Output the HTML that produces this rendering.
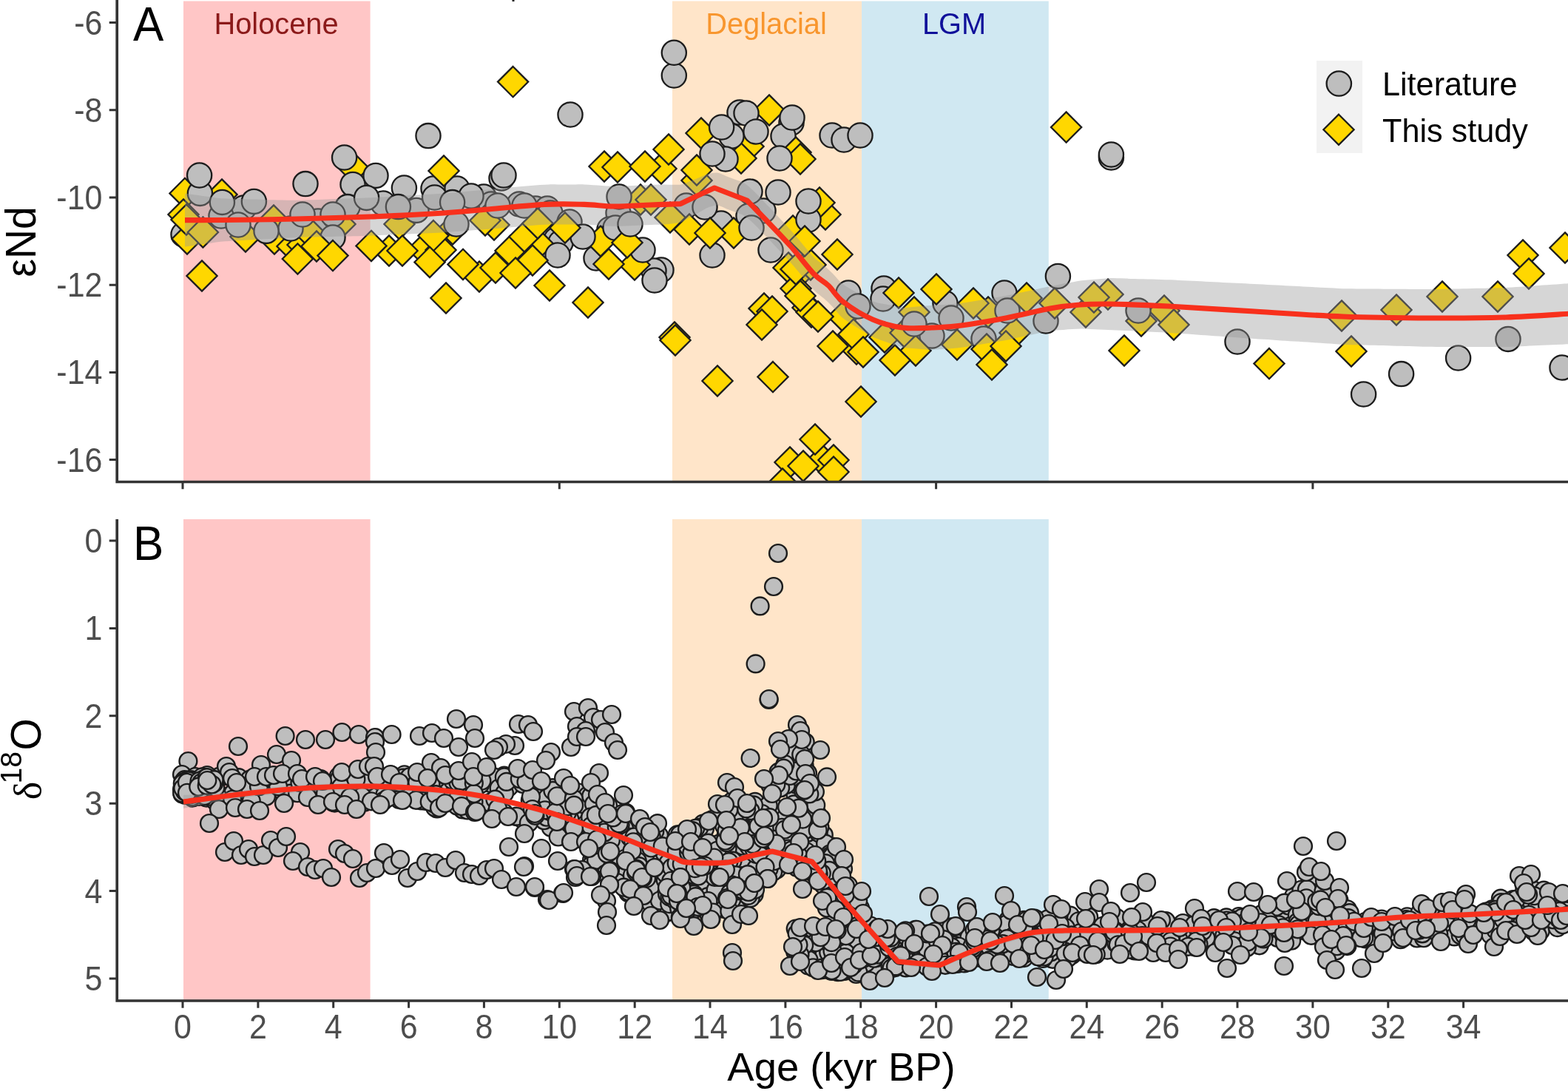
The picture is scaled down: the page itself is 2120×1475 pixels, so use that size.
<!DOCTYPE html>
<html lang="en"><head><meta charset="utf-8"><title>εNd and δ18O versus age</title>
<style>
html,body{margin:0;padding:0;background:#fff;}
body{width:2120px;height:1475px;overflow:hidden;}
svg{display:block;}
text{font-family:"Liberation Sans",Arial,Helvetica,sans-serif;}
.tk{font-size:41px;fill:#4d4d4d;}
.ax{stroke:#333;stroke-width:3.7;fill:none;}
.c{fill:#bebebe;stroke:#1c1c1c;stroke-width:2.3;}
.d{fill:#ffd700;stroke:#1c1c1c;stroke-width:2.3;}
.rl{fill:none;stroke:#f8301c;stroke-width:7.1;stroke-linejoin:round;stroke-linecap:butt;}
.rb{fill:#999;fill-opacity:.4;stroke:none;}
</style></head><body>
<svg width="2120" height="1475" viewBox="0 0 2120 1475">
<rect width="2120" height="1475" fill="#fff"/>
<g id="panelA">
<rect x="248.0" y="1.5" width="252.6" height="650.0" fill="#ffc6c6"/>
<rect x="909.0" y="1.5" width="256.0" height="650.0" fill="#ffe5c9"/>
<rect x="1165.0" y="1.5" width="252.8" height="650.0" fill="#d0e8f2"/>
<clipPath id="clipA"><rect x="160" y="0" width="1960" height="650"/></clipPath>
<g clip-path="url(#clipA)">
<path class="d" d="M1012.0 177.4l20.6 20.6l-20.6 20.6l-20.6 -20.6z"/>
<path class="d" d="M1002.0 193.4l20.6 20.6l-20.6 20.6l-20.6 -20.6z"/>
<circle class="c" cx="329.6" cy="281.0" r="16.6"/>
<circle class="c" cx="430.0" cy="299.0" r="16.6"/>
<circle class="c" cx="299.0" cy="292.0" r="16.6"/>
<circle class="c" cx="248.0" cy="317.0" r="16.6"/>
<circle class="c" cx="518.0" cy="275.0" r="16.6"/>
<circle class="c" cx="586.0" cy="255.0" r="16.6"/>
<circle class="c" cx="618.0" cy="255.0" r="16.6"/>
<path class="d" d="M250.0 240.8l20.6 20.6l-20.6 20.6l-20.6 -20.6z"/>
<path class="d" d="M248.0 269.4l20.6 20.6l-20.6 20.6l-20.6 -20.6z"/>
<path class="d" d="M253.0 302.4l20.6 20.6l-20.6 20.6l-20.6 -20.6z"/>
<path class="d" d="M300.0 242.4l20.6 20.6l-20.6 20.6l-20.6 -20.6z"/>
<path class="d" d="M332.0 299.4l20.6 20.6l-20.6 20.6l-20.6 -20.6z"/>
<path class="d" d="M371.0 302.4l20.6 20.6l-20.6 20.6l-20.6 -20.6z"/>
<path class="d" d="M370.0 277.4l20.6 20.6l-20.6 20.6l-20.6 -20.6z"/>
<path class="d" d="M395.0 312.4l20.6 20.6l-20.6 20.6l-20.6 -20.6z"/>
<path class="d" d="M409.0 310.4l20.6 20.6l-20.6 20.6l-20.6 -20.6z"/>
<path class="d" d="M478.0 206.4l20.6 20.6l-20.6 20.6l-20.6 -20.6z"/>
<path class="d" d="M526.0 318.4l20.6 20.6l-20.6 20.6l-20.6 -20.6z"/>
<path class="d" d="M540.0 282.4l20.6 20.6l-20.6 20.6l-20.6 -20.6z"/>
<path class="d" d="M572.0 316.4l20.6 20.6l-20.6 20.6l-20.6 -20.6z"/>
<path class="d" d="M596.0 317.4l20.6 20.6l-20.6 20.6l-20.6 -20.6z"/>
<path class="d" d="M612.0 289.4l20.6 20.6l-20.6 20.6l-20.6 -20.6z"/>
<path class="d" d="M460.0 282.4l20.6 20.6l-20.6 20.6l-20.6 -20.6z"/>
<path class="d" d="M420.0 295.4l20.6 20.6l-20.6 20.6l-20.6 -20.6z"/>
<circle class="c" cx="678.0" cy="241.0" r="16.6"/>
<circle class="c" cx="654.0" cy="266.0" r="16.6"/>
<circle class="c" cx="664.0" cy="276.0" r="16.6"/>
<circle class="c" cx="702.0" cy="276.0" r="16.6"/>
<circle class="c" cx="724.0" cy="282.0" r="16.6"/>
<circle class="c" cx="740.0" cy="282.0" r="16.6"/>
<circle class="c" cx="744.0" cy="288.0" r="16.6"/>
<circle class="c" cx="770.0" cy="300.0" r="16.6"/>
<circle class="c" cx="836.0" cy="288.0" r="16.6"/>
<circle class="c" cx="824.0" cy="310.0" r="16.6"/>
<circle class="c" cx="752.0" cy="324.0" r="16.6"/>
<circle class="c" cx="758.0" cy="328.0" r="16.6"/>
<circle class="c" cx="806.0" cy="349.0" r="16.6"/>
<circle class="c" cx="894.0" cy="365.0" r="16.6"/>
<circle class="c" cx="884.0" cy="366.0" r="16.6"/>
<circle class="c" cx="928.0" cy="278.0" r="16.6"/>
<path class="d" d="M668.0 283.4l20.6 20.6l-20.6 20.6l-20.6 -20.6z"/>
<path class="d" d="M656.0 277.4l20.6 20.6l-20.6 20.6l-20.6 -20.6z"/>
<path class="d" d="M728.0 309.4l20.6 20.6l-20.6 20.6l-20.6 -20.6z"/>
<path class="d" d="M812.0 305.4l20.6 20.6l-20.6 20.6l-20.6 -20.6z"/>
<path class="d" d="M817.0 204.4l20.6 20.6l-20.6 20.6l-20.6 -20.6z"/>
<path class="d" d="M894.0 207.4l20.6 20.6l-20.6 20.6l-20.6 -20.6z"/>
<path class="d" d="M858.0 337.4l20.6 20.6l-20.6 20.6l-20.6 -20.6z"/>
<path class="d" d="M866.0 249.4l20.6 20.6l-20.6 20.6l-20.6 -20.6z"/>
<path class="d" d="M880.0 249.4l20.6 20.6l-20.6 20.6l-20.6 -20.6z"/>
<path class="d" d="M906.0 273.4l20.6 20.6l-20.6 20.6l-20.6 -20.6z"/>
<path class="d" d="M942.0 223.4l20.6 20.6l-20.6 20.6l-20.6 -20.6z"/>
<circle class="c" cx="1000.0" cy="152.0" r="16.6"/>
<circle class="c" cx="989.0" cy="184.0" r="16.6"/>
<circle class="c" cx="1070.0" cy="166.0" r="16.6"/>
<circle class="c" cx="1059.0" cy="184.0" r="16.6"/>
<circle class="c" cx="981.0" cy="215.0" r="16.6"/>
<circle class="c" cx="1125.0" cy="183.0" r="16.6"/>
<circle class="c" cx="1032.0" cy="285.0" r="16.6"/>
<circle class="c" cx="1012.0" cy="292.0" r="16.6"/>
<circle class="c" cx="975.0" cy="302.0" r="16.6"/>
<path class="d" d="M1040.0 128.4l20.6 20.6l-20.6 20.6l-20.6 -20.6z"/>
<path class="d" d="M1076.0 185.4l20.6 20.6l-20.6 20.6l-20.6 -20.6z"/>
<path class="d" d="M1116.0 269.4l20.6 20.6l-20.6 20.6l-20.6 -20.6z"/>
<path class="d" d="M1108.0 253.4l20.6 20.6l-20.6 20.6l-20.6 -20.6z"/>
<path class="d" d="M1072.0 291.4l20.6 20.6l-20.6 20.6l-20.6 -20.6z"/>
<path class="d" d="M1088.0 341.4l20.6 20.6l-20.6 20.6l-20.6 -20.6z"/>
<path class="d" d="M1096.0 337.4l20.6 20.6l-20.6 20.6l-20.6 -20.6z"/>
<path class="d" d="M1066.0 341.4l20.6 20.6l-20.6 20.6l-20.6 -20.6z"/>
<path class="d" d="M912.0 435.4l20.6 20.6l-20.6 20.6l-20.6 -20.6z"/>
<path class="d" d="M1033.0 396.4l20.6 20.6l-20.6 20.6l-20.6 -20.6z"/>
<path class="d" d="M1076.0 369.4l20.6 20.6l-20.6 20.6l-20.6 -20.6z"/>
<path class="d" d="M1092.0 395.4l20.6 20.6l-20.6 20.6l-20.6 -20.6z"/>
<path class="d" d="M1097.0 401.4l20.6 20.6l-20.6 20.6l-20.6 -20.6z"/>
<path class="d" d="M1158.0 451.4l20.6 20.6l-20.6 20.6l-20.6 -20.6z"/>
<path class="d" d="M1140.0 407.4l20.6 20.6l-20.6 20.6l-20.6 -20.6z"/>
<path class="d" d="M1196.0 435.4l20.6 20.6l-20.6 20.6l-20.6 -20.6z"/>
<path class="d" d="M1224.0 429.4l20.6 20.6l-20.6 20.6l-20.6 -20.6z"/>
<path class="d" d="M1236.0 401.4l20.6 20.6l-20.6 20.6l-20.6 -20.6z"/>
<path class="d" d="M1068.0 604.4l20.6 20.6l-20.6 20.6l-20.6 -20.6z"/>
<path class="d" d="M1112.0 601.4l20.6 20.6l-20.6 20.6l-20.6 -20.6z"/>
<path class="d" d="M1058.0 633.4l20.6 20.6l-20.6 20.6l-20.6 -20.6z"/>
<circle class="c" cx="1147.0" cy="396.0" r="16.6"/>
<circle class="c" cx="1160.0" cy="414.0" r="16.6"/>
<circle class="c" cx="1195.0" cy="390.0" r="16.6"/>
<circle class="c" cx="1194.0" cy="404.0" r="16.6"/>
<circle class="c" cx="1278.0" cy="410.0" r="16.6"/>
<circle class="c" cx="1260.0" cy="454.0" r="16.6"/>
<circle class="c" cx="1358.0" cy="396.0" r="16.6"/>
<circle class="c" cx="1330.0" cy="458.0" r="16.6"/>
<path class="d" d="M1336.0 401.4l20.6 20.6l-20.6 20.6l-20.6 -20.6z"/>
<path class="d" d="M1468.0 401.4l20.6 20.6l-20.6 20.6l-20.6 -20.6z"/>
<path class="d" d="M1498.0 377.4l20.6 20.6l-20.6 20.6l-20.6 -20.6z"/>
<path class="d" d="M1543.0 413.4l20.6 20.6l-20.6 20.6l-20.6 -20.6z"/>
<path class="d" d="M1574.0 399.4l20.6 20.6l-20.6 20.6l-20.6 -20.6z"/>
<path class="d" d="M1372.0 429.4l20.6 20.6l-20.6 20.6l-20.6 -20.6z"/>
<path class="d" d="M1334.0 451.4l20.6 20.6l-20.6 20.6l-20.6 -20.6z"/>
<circle class="c" cx="1502.4" cy="213.0" r="16.6"/>
<circle class="c" cx="270.4" cy="261.4" r="16.6"/>
<circle class="c" cx="300.4" cy="273.4" r="16.6"/>
<circle class="c" cx="477.0" cy="249.4" r="16.6"/>
<circle class="c" cx="508.0" cy="237.4" r="16.6"/>
<circle class="c" cx="470.0" cy="279.6" r="16.6"/>
<circle class="c" cx="450.0" cy="290.0" r="16.6"/>
<circle class="c" cx="393.0" cy="309.0" r="16.6"/>
<circle class="c" cx="322.0" cy="304.0" r="16.6"/>
<circle class="c" cx="450.0" cy="321.0" r="16.6"/>
<circle class="c" cx="546.4" cy="254.0" r="16.6"/>
<circle class="c" cx="563.0" cy="284.4" r="16.6"/>
<circle class="c" cx="587.6" cy="267.0" r="16.6"/>
<circle class="c" cx="637.0" cy="265.0" r="16.6"/>
<path class="d" d="M252.0 276.4l20.6 20.6l-20.6 20.6l-20.6 -20.6z"/>
<path class="d" d="M428.0 312.4l20.6 20.6l-20.6 20.6l-20.6 -20.6z"/>
<circle class="c" cx="673.0" cy="278.0" r="16.6"/>
<circle class="c" cx="709.0" cy="278.0" r="16.6"/>
<circle class="c" cx="837.0" cy="266.0" r="16.6"/>
<circle class="c" cx="832.0" cy="308.0" r="16.6"/>
<circle class="c" cx="788.0" cy="320.0" r="16.6"/>
<circle class="c" cx="754.0" cy="345.0" r="16.6"/>
<circle class="c" cx="869.0" cy="338.0" r="16.6"/>
<circle class="c" cx="953.0" cy="280.0" r="16.6"/>
<path class="d" d="M648.0 353.4l20.6 20.6l-20.6 20.6l-20.6 -20.6z"/>
<path class="d" d="M670.0 341.4l20.6 20.6l-20.6 20.6l-20.6 -20.6z"/>
<path class="d" d="M690.0 318.4l20.6 20.6l-20.6 20.6l-20.6 -20.6z"/>
<path class="d" d="M709.0 299.4l20.6 20.6l-20.6 20.6l-20.6 -20.6z"/>
<path class="d" d="M720.0 331.4l20.6 20.6l-20.6 20.6l-20.6 -20.6z"/>
<path class="d" d="M848.0 307.4l20.6 20.6l-20.6 20.6l-20.6 -20.6z"/>
<path class="d" d="M948.0 159.4l20.6 20.6l-20.6 20.6l-20.6 -20.6z"/>
<path class="d" d="M942.0 209.4l20.6 20.6l-20.6 20.6l-20.6 -20.6z"/>
<path class="d" d="M932.0 289.4l20.6 20.6l-20.6 20.6l-20.6 -20.6z"/>
<circle class="c" cx="1009.0" cy="153.0" r="16.6"/>
<circle class="c" cx="1141.0" cy="189.0" r="16.6"/>
<circle class="c" cx="1014.0" cy="259.0" r="16.6"/>
<circle class="c" cx="1093.0" cy="297.0" r="16.6"/>
<path class="d" d="M1082.0 194.4l20.6 20.6l-20.6 20.6l-20.6 -20.6z"/>
<path class="d" d="M992.0 294.4l20.6 20.6l-20.6 20.6l-20.6 -20.6z"/>
<path class="d" d="M1088.0 305.4l20.6 20.6l-20.6 20.6l-20.6 -20.6z"/>
<path class="d" d="M1076.0 343.4l20.6 20.6l-20.6 20.6l-20.6 -20.6z"/>
<path class="d" d="M1044.0 400.4l20.6 20.6l-20.6 20.6l-20.6 -20.6z"/>
<path class="d" d="M1082.0 379.4l20.6 20.6l-20.6 20.6l-20.6 -20.6z"/>
<path class="d" d="M1126.0 447.4l20.6 20.6l-20.6 20.6l-20.6 -20.6z"/>
<path class="d" d="M1154.0 431.4l20.6 20.6l-20.6 20.6l-20.6 -20.6z"/>
<path class="d" d="M1238.0 453.4l20.6 20.6l-20.6 20.6l-20.6 -20.6z"/>
<path class="d" d="M1316.0 389.4l20.6 20.6l-20.6 20.6l-20.6 -20.6z"/>
<path class="d" d="M1294.0 445.4l20.6 20.6l-20.6 20.6l-20.6 -20.6z"/>
<path class="d" d="M1102.0 573.4l20.6 20.6l-20.6 20.6l-20.6 -20.6z"/>
<path class="d" d="M1127.0 601.4l20.6 20.6l-20.6 20.6l-20.6 -20.6z"/>
<circle class="c" cx="1236.0" cy="438.0" r="16.6"/>
<circle class="c" cx="1286.0" cy="430.0" r="16.6"/>
<circle class="c" cx="1362.0" cy="420.0" r="16.6"/>
<circle class="c" cx="1414.0" cy="434.0" r="16.6"/>
<circle class="c" cx="1539.0" cy="420.0" r="16.6"/>
<path class="d" d="M1388.0 382.4l20.6 20.6l-20.6 20.6l-20.6 -20.6z"/>
<path class="d" d="M1426.0 389.4l20.6 20.6l-20.6 20.6l-20.6 -20.6z"/>
<path class="d" d="M1479.0 381.4l20.6 20.6l-20.6 20.6l-20.6 -20.6z"/>
<path class="d" d="M1587.0 418.4l20.6 20.6l-20.6 20.6l-20.6 -20.6z"/>
<path class="d" d="M1360.0 447.4l20.6 20.6l-20.6 20.6l-20.6 -20.6z"/>
<path class="d" d="M1814.0 406.4l20.6 20.6l-20.6 20.6l-20.6 -20.6z"/>
<path class="d" d="M1888.0 398.4l20.6 20.6l-20.6 20.6l-20.6 -20.6z"/>
<path class="d" d="M1950.0 380.4l20.6 20.6l-20.6 20.6l-20.6 -20.6z"/>
<path class="d" d="M2025.0 380.4l20.6 20.6l-20.6 20.6l-20.6 -20.6z"/>
<path class="d" d="M2059.0 324.4l20.6 20.6l-20.6 20.6l-20.6 -20.6z"/>
<path class="d" d="M2116.0 314.4l20.6 20.6l-20.6 20.6l-20.6 -20.6z"/>
<circle class="c" cx="1843.6" cy="533.0" r="16.6"/>
<circle class="c" cx="1894.6" cy="505.6" r="16.6"/>
<circle class="c" cx="1971.6" cy="484.0" r="16.6"/>
<circle class="c" cx="2039.0" cy="458.4" r="16.6"/>
<circle class="c" cx="2112.0" cy="497.0" r="16.6"/>
<circle class="c" cx="911.3" cy="102.0" r="16.6"/>
<circle class="c" cx="1502.4" cy="209.0" r="16.6"/>
<circle class="c" cx="269.6" cy="237.0" r="16.6"/>
<circle class="c" cx="343.4" cy="272.4" r="16.6"/>
<circle class="c" cx="413.0" cy="248.6" r="16.6"/>
<circle class="c" cx="465.6" cy="213.0" r="16.6"/>
<circle class="c" cx="495.6" cy="267.4" r="16.6"/>
<circle class="c" cx="409.0" cy="290.0" r="16.6"/>
<circle class="c" cx="360.0" cy="312.4" r="16.6"/>
<circle class="c" cx="538.4" cy="279.6" r="16.6"/>
<circle class="c" cx="579.0" cy="183.6" r="16.6"/>
<circle class="c" cx="611.6" cy="273.6" r="16.6"/>
<circle class="c" cx="617.0" cy="303.0" r="16.6"/>
<path class="d" d="M274.4 293.4l20.6 20.6l-20.6 20.6l-20.6 -20.6z"/>
<path class="d" d="M273.0 352.4l20.6 20.6l-20.6 20.6l-20.6 -20.6z"/>
<path class="d" d="M402.4 329.4l20.6 20.6l-20.6 20.6l-20.6 -20.6z"/>
<path class="d" d="M450.0 325.0l20.6 20.6l-20.6 20.6l-20.6 -20.6z"/>
<path class="d" d="M502.0 311.8l20.6 20.6l-20.6 20.6l-20.6 -20.6z"/>
<path class="d" d="M544.0 318.4l20.6 20.6l-20.6 20.6l-20.6 -20.6z"/>
<path class="d" d="M586.0 298.0l20.6 20.6l-20.6 20.6l-20.6 -20.6z"/>
<path class="d" d="M581.0 333.8l20.6 20.6l-20.6 20.6l-20.6 -20.6z"/>
<path class="d" d="M600.0 210.4l20.6 20.6l-20.6 20.6l-20.6 -20.6z"/>
<path class="d" d="M626.0 336.8l20.6 20.6l-20.6 20.6l-20.6 -20.6z"/>
<path class="d" d="M603.0 382.4l20.6 20.6l-20.6 20.6l-20.6 -20.6z"/>
<circle class="c" cx="771.0" cy="155.0" r="16.6"/>
<circle class="c" cx="681.0" cy="237.0" r="16.6"/>
<circle class="c" cx="852.0" cy="303.0" r="16.6"/>
<circle class="c" cx="885.0" cy="379.0" r="16.6"/>
<path class="d" d="M697.0 348.4l20.6 20.6l-20.6 20.6l-20.6 -20.6z"/>
<path class="d" d="M727.0 281.4l20.6 20.6l-20.6 20.6l-20.6 -20.6z"/>
<path class="d" d="M743.0 365.4l20.6 20.6l-20.6 20.6l-20.6 -20.6z"/>
<path class="d" d="M764.0 287.4l20.6 20.6l-20.6 20.6l-20.6 -20.6z"/>
<path class="d" d="M795.0 388.4l20.6 20.6l-20.6 20.6l-20.6 -20.6z"/>
<path class="d" d="M835.0 205.4l20.6 20.6l-20.6 20.6l-20.6 -20.6z"/>
<path class="d" d="M872.0 204.4l20.6 20.6l-20.6 20.6l-20.6 -20.6z"/>
<path class="d" d="M904.0 181.4l20.6 20.6l-20.6 20.6l-20.6 -20.6z"/>
<path class="d" d="M823.0 336.4l20.6 20.6l-20.6 20.6l-20.6 -20.6z"/>
<circle class="c" cx="975.6" cy="172.0" r="16.6"/>
<circle class="c" cx="1022.0" cy="178.0" r="16.6"/>
<circle class="c" cx="1071.0" cy="159.0" r="16.6"/>
<circle class="c" cx="963.0" cy="208.0" r="16.6"/>
<circle class="c" cx="1054.0" cy="214.0" r="16.6"/>
<circle class="c" cx="1163.0" cy="183.0" r="16.6"/>
<circle class="c" cx="1052.0" cy="260.0" r="16.6"/>
<circle class="c" cx="1016.0" cy="308.0" r="16.6"/>
<circle class="c" cx="963.0" cy="345.0" r="16.6"/>
<circle class="c" cx="1042.0" cy="338.0" r="16.6"/>
<circle class="c" cx="1093.0" cy="272.0" r="16.6"/>
<path class="d" d="M960.0 294.4l20.6 20.6l-20.6 20.6l-20.6 -20.6z"/>
<path class="d" d="M1132.0 323.4l20.6 20.6l-20.6 20.6l-20.6 -20.6z"/>
<path class="d" d="M913.0 439.4l20.6 20.6l-20.6 20.6l-20.6 -20.6z"/>
<path class="d" d="M970.0 494.4l20.6 20.6l-20.6 20.6l-20.6 -20.6z"/>
<path class="d" d="M1045.0 489.0l20.6 20.6l-20.6 20.6l-20.6 -20.6z"/>
<path class="d" d="M1030.0 418.4l20.6 20.6l-20.6 20.6l-20.6 -20.6z"/>
<path class="d" d="M1106.0 407.4l20.6 20.6l-20.6 20.6l-20.6 -20.6z"/>
<path class="d" d="M1167.0 455.4l20.6 20.6l-20.6 20.6l-20.6 -20.6z"/>
<path class="d" d="M1210.0 466.4l20.6 20.6l-20.6 20.6l-20.6 -20.6z"/>
<path class="d" d="M1215.0 375.4l20.6 20.6l-20.6 20.6l-20.6 -20.6z"/>
<path class="d" d="M1266.0 370.4l20.6 20.6l-20.6 20.6l-20.6 -20.6z"/>
<path class="d" d="M1164.0 522.4l20.6 20.6l-20.6 20.6l-20.6 -20.6z"/>
<path class="d" d="M1086.0 609.4l20.6 20.6l-20.6 20.6l-20.6 -20.6z"/>
<path class="d" d="M1127.0 617.4l20.6 20.6l-20.6 20.6l-20.6 -20.6z"/>
<circle class="c" cx="1430.4" cy="373.4" r="16.6"/>
<circle class="c" cx="1673.0" cy="462.0" r="16.6"/>
<path class="d" d="M1520.0 453.4l20.6 20.6l-20.6 20.6l-20.6 -20.6z"/>
<path class="d" d="M1341.0 472.4l20.6 20.6l-20.6 20.6l-20.6 -20.6z"/>
<path class="d" d="M1716.0 471.0l20.6 20.6l-20.6 20.6l-20.6 -20.6z"/>
<path class="d" d="M1827.0 454.4l20.6 20.6l-20.6 20.6l-20.6 -20.6z"/>
<path class="d" d="M2067.0 349.4l20.6 20.6l-20.6 20.6l-20.6 -20.6z"/>
<path class="d" d="M693.6 90.0l20.6 20.6l-20.6 20.6l-20.6 -20.6z"/>
<circle class="c" cx="911.3" cy="71.3" r="16.6"/>
<path class="d" d="M1441.6 151.4l20.6 20.6l-20.6 20.6l-20.6 -20.6z"/>
<path class="rb" d="M250.0 261.6C252.0 261.9 258.0 262.7 262.0 263.3C266.0 263.8 270.0 264.4 274.0 264.9C278.0 265.5 282.0 266.0 286.0 266.6C290.0 267.1 294.0 267.9 298.0 268.2C302.0 268.6 306.0 268.6 310.0 268.8C314.0 268.9 318.0 268.9 322.0 269.1C326.0 269.2 330.0 269.2 334.0 269.4C338.0 269.5 342.0 269.5 346.0 269.6C350.0 269.8 354.0 269.8 358.0 269.9C362.0 270.1 366.0 270.1 370.0 270.2C374.0 270.4 378.0 270.4 382.0 270.5C386.0 270.6 390.0 270.8 394.0 270.8C398.0 270.9 402.0 270.9 406.0 270.8C410.0 270.7 414.0 270.5 418.0 270.3C422.0 270.2 426.0 270.0 430.0 269.9C434.0 269.8 438.0 269.6 442.0 269.5C446.0 269.3 450.0 269.2 454.0 269.0C458.0 268.9 462.0 268.7 466.0 268.6C470.0 268.4 474.0 268.3 478.0 268.1C482.0 268.0 486.0 267.9 490.0 267.7C494.0 267.5 498.0 267.4 502.0 267.2C506.0 267.0 510.0 266.8 514.0 266.5C518.0 266.3 522.0 266.1 526.0 265.9C530.0 265.6 534.0 265.4 538.0 265.2C542.0 265.0 546.0 264.7 550.0 264.5C554.0 264.3 558.0 264.0 562.0 263.8C566.0 263.6 570.0 263.4 574.0 263.1C578.0 262.9 582.0 262.7 586.0 262.5C590.0 262.2 594.0 262.1 598.0 261.8C602.0 261.5 606.0 261.1 610.0 260.8C614.0 260.4 618.0 260.0 622.0 259.7C626.0 259.3 630.0 259.0 634.0 258.6C638.0 258.2 642.0 257.9 646.0 257.5C650.0 257.2 654.0 256.8 658.0 256.4C662.0 256.1 666.0 255.7 670.0 255.3C674.0 255.0 678.0 254.6 682.0 254.2C686.0 253.8 690.0 253.5 694.0 253.1C698.0 252.7 702.0 252.4 706.0 252.0C710.0 251.7 714.0 251.3 718.0 251.0C722.0 250.6 726.0 250.2 730.0 249.9C734.0 249.7 738.0 249.5 742.0 249.4C746.0 249.3 750.0 249.4 754.0 249.4C758.0 249.4 762.0 249.4 766.0 249.4C770.0 249.4 774.0 249.4 778.0 249.4C782.0 249.4 786.0 249.3 790.0 249.4C794.0 249.5 798.0 249.9 802.0 250.2C806.0 250.4 810.0 250.7 814.0 251.0C818.0 251.2 822.0 251.6 826.0 251.7C830.0 251.9 834.0 251.8 838.0 251.7C842.0 251.6 846.0 251.4 850.0 251.2C854.0 251.0 858.0 250.9 862.0 250.7C866.0 250.6 870.0 250.4 874.0 250.2C878.0 250.1 882.0 249.9 886.0 249.8C890.0 249.6 894.0 249.4 898.0 249.4C902.0 249.4 906.0 249.7 910.0 249.7C914.0 249.7 918.0 250.2 922.0 249.3C926.0 248.4 930.0 246.1 934.0 244.5C938.0 242.9 942.0 241.3 946.0 239.7C950.0 238.2 954.0 236.1 958.0 235.1C962.0 234.1 966.0 233.0 970.0 233.5C974.0 234.1 978.0 236.6 982.0 238.2C986.0 239.7 990.0 241.3 994.0 242.8C998.0 244.4 1002.0 245.0 1006.0 247.5C1010.0 249.9 1014.0 253.6 1018.0 257.3C1022.0 261.0 1026.0 265.5 1030.0 269.7C1034.0 273.8 1038.0 277.9 1042.0 282.1C1046.0 286.3 1050.0 290.7 1054.0 294.9C1058.0 299.2 1062.0 303.3 1066.0 307.7C1070.0 312.2 1074.0 316.9 1078.0 321.6C1082.0 326.3 1086.0 331.3 1090.0 336.0C1094.0 340.7 1098.0 345.7 1102.0 349.6C1106.0 353.4 1110.0 355.4 1114.0 358.8C1118.0 362.2 1122.0 366.0 1126.0 370.0C1130.0 374.0 1134.0 379.4 1138.0 382.9C1142.0 386.3 1146.0 388.3 1150.0 390.8C1154.0 393.2 1158.0 395.3 1162.0 397.6C1166.0 399.9 1170.0 402.6 1174.0 404.5C1178.0 406.5 1182.0 408.0 1186.0 409.2C1190.0 410.4 1194.0 410.8 1198.0 411.6C1202.0 412.4 1206.0 413.3 1210.0 414.0C1214.0 414.7 1218.0 415.7 1222.0 415.9C1226.0 416.0 1230.0 415.2 1234.0 414.9C1238.0 414.6 1242.0 414.4 1246.0 414.1C1250.0 413.8 1254.0 413.4 1258.0 413.1C1262.0 412.8 1266.0 412.6 1270.0 412.2C1274.0 411.9 1278.0 411.7 1282.0 411.4C1286.0 411.1 1290.0 410.8 1294.0 410.4C1298.0 410.1 1302.0 409.6 1306.0 409.0C1310.0 408.4 1314.0 407.7 1318.0 407.0C1322.0 406.3 1326.0 405.7 1330.0 405.0C1334.0 404.3 1338.0 403.7 1342.0 403.0C1346.0 402.3 1350.0 401.7 1354.0 401.0C1358.0 400.3 1362.0 399.5 1366.0 398.7C1370.0 397.9 1374.0 397.0 1378.0 396.1C1382.0 395.2 1386.0 394.4 1390.0 393.5C1394.0 392.6 1398.0 391.8 1402.0 390.9C1406.0 390.0 1410.0 389.1 1414.0 388.3C1418.0 387.5 1422.0 386.7 1426.0 385.9C1430.0 385.1 1434.0 384.4 1438.0 383.6C1442.0 382.9 1446.0 382.1 1450.0 381.4C1454.0 380.7 1458.0 379.8 1462.0 379.3C1466.0 378.8 1470.0 378.6 1474.0 378.3C1478.0 377.9 1482.0 377.6 1486.0 377.2C1490.0 376.9 1494.0 376.3 1498.0 376.2C1502.0 376.0 1506.0 376.2 1510.0 376.3C1514.0 376.3 1518.0 376.5 1522.0 376.6C1526.0 376.7 1530.0 376.8 1534.0 376.9C1538.0 377.0 1542.0 377.2 1546.0 377.3C1550.0 377.4 1554.0 377.5 1558.0 377.6C1562.0 377.7 1566.0 377.8 1570.0 377.9C1574.0 378.0 1578.0 378.1 1582.0 378.3C1586.0 378.5 1590.0 378.7 1594.0 378.9C1598.0 379.1 1602.0 379.3 1606.0 379.5C1610.0 379.7 1614.0 379.9 1618.0 380.1C1622.0 380.3 1626.0 380.5 1630.0 380.7C1634.0 380.9 1638.0 381.1 1642.0 381.3C1646.0 381.5 1650.0 381.7 1654.0 381.9C1658.0 382.1 1662.0 382.3 1666.0 382.5C1670.0 382.7 1674.0 382.9 1678.0 383.1C1682.0 383.3 1686.0 383.5 1690.0 383.7C1694.0 383.9 1698.0 384.1 1702.0 384.3C1706.0 384.5 1710.0 384.8 1714.0 385.0C1718.0 385.2 1722.0 385.4 1726.0 385.6C1730.0 385.8 1734.0 386.0 1738.0 386.2C1742.0 386.4 1746.0 386.6 1750.0 386.8C1754.0 387.0 1758.0 387.2 1762.0 387.4C1766.0 387.6 1770.0 387.9 1774.0 388.1C1778.0 388.3 1782.0 388.5 1786.0 388.7C1790.0 388.9 1794.0 389.1 1798.0 389.3C1802.0 389.5 1806.0 389.8 1810.0 389.9C1814.0 390.1 1818.0 390.2 1822.0 390.3C1826.0 390.4 1830.0 390.4 1834.0 390.4C1838.0 390.4 1842.0 390.5 1846.0 390.5C1850.0 390.6 1854.0 390.6 1858.0 390.6C1862.0 390.6 1866.0 390.7 1870.0 390.7C1874.0 390.7 1878.0 390.7 1882.0 390.8C1886.0 390.8 1890.0 390.8 1894.0 390.8C1898.0 390.8 1902.0 390.9 1906.0 390.9C1910.0 390.9 1914.0 390.9 1918.0 391.0C1922.0 391.0 1926.0 391.0 1930.0 391.0C1934.0 391.0 1938.0 391.0 1942.0 390.9C1946.0 390.9 1950.0 390.8 1954.0 390.7C1958.0 390.6 1962.0 390.5 1966.0 390.4C1970.0 390.4 1974.0 390.3 1978.0 390.2C1982.0 390.1 1986.0 390.0 1990.0 389.9C1994.0 389.8 1998.0 389.8 2002.0 389.7C2006.0 389.6 2010.0 389.5 2014.0 389.4C2018.0 389.3 2022.0 389.3 2026.0 389.2C2030.0 389.1 2034.0 389.0 2038.0 388.8C2042.0 388.6 2046.0 388.3 2050.0 388.0C2054.0 387.8 2058.0 387.5 2062.0 387.2C2066.0 387.0 2070.0 386.7 2074.0 386.4C2078.0 386.2 2082.0 385.9 2086.0 385.6C2090.0 385.3 2094.0 385.1 2098.0 384.8C2102.0 384.5 2106.0 384.3 2110.0 384.0C2114.0 383.7 2119.5 383.4 2122.0 383.2C2124.5 383.0 2124.5 383.0 2125.0 383.0L2125.0 465.0C2124.5 465.0 2124.5 465.0 2122.0 465.1C2119.5 465.2 2114.0 465.5 2110.0 465.7C2106.0 465.9 2102.0 466.0 2098.0 466.2C2094.0 466.4 2090.0 466.6 2086.0 466.8C2082.0 466.9 2078.0 467.1 2074.0 467.3C2070.0 467.5 2066.0 467.7 2062.0 467.9C2058.0 468.0 2054.0 468.2 2050.0 468.4C2046.0 468.6 2042.0 468.8 2038.0 468.9C2034.0 469.0 2030.0 469.0 2026.0 469.0C2022.0 469.0 2018.0 469.0 2014.0 469.0C2010.0 469.0 2006.0 469.0 2002.0 469.0C1998.0 469.0 1994.0 469.0 1990.0 469.0C1986.0 469.0 1982.0 469.0 1978.0 469.0C1974.0 469.0 1970.0 469.0 1966.0 469.0C1962.0 469.0 1958.0 469.0 1954.0 469.0C1950.0 469.0 1946.0 469.0 1942.0 468.9C1938.0 468.9 1934.0 468.9 1930.0 468.8C1926.0 468.7 1922.0 468.6 1918.0 468.4C1914.0 468.3 1910.0 468.2 1906.0 468.1C1902.0 468.0 1898.0 467.9 1894.0 467.8C1890.0 467.7 1886.0 467.6 1882.0 467.4C1878.0 467.3 1874.0 467.2 1870.0 467.1C1866.0 467.0 1862.0 466.9 1858.0 466.8C1854.0 466.7 1850.0 466.6 1846.0 466.5C1842.0 466.4 1838.0 466.3 1834.0 466.2C1830.0 466.1 1826.0 466.0 1822.0 465.9C1818.0 465.8 1814.0 465.6 1810.0 465.4C1806.0 465.2 1802.0 464.9 1798.0 464.6C1794.0 464.3 1790.0 464.1 1786.0 463.8C1782.0 463.6 1778.0 463.3 1774.0 463.0C1770.0 462.8 1766.0 462.5 1762.0 462.3C1758.0 462.0 1754.0 461.7 1750.0 461.5C1746.0 461.2 1742.0 461.0 1738.0 460.7C1734.0 460.4 1730.0 460.2 1726.0 459.9C1722.0 459.7 1718.0 459.4 1714.0 459.1C1710.0 458.9 1706.0 458.6 1702.0 458.4C1698.0 458.1 1694.0 457.8 1690.0 457.5C1686.0 457.3 1682.0 457.0 1678.0 456.7C1674.0 456.4 1670.0 456.1 1666.0 455.8C1662.0 455.6 1658.0 455.3 1654.0 455.0C1650.0 454.7 1646.0 454.4 1642.0 454.2C1638.0 453.9 1634.0 453.6 1630.0 453.3C1626.0 453.0 1622.0 452.8 1618.0 452.5C1614.0 452.2 1610.0 451.9 1606.0 451.6C1602.0 451.3 1598.0 451.1 1594.0 450.8C1590.0 450.5 1586.0 450.2 1582.0 449.9C1578.0 449.7 1574.0 449.5 1570.0 449.3C1566.0 449.1 1562.0 448.9 1558.0 448.8C1554.0 448.6 1550.0 448.4 1546.0 448.2C1542.0 448.0 1538.0 447.8 1534.0 447.6C1530.0 447.4 1526.0 447.2 1522.0 447.0C1518.0 446.9 1514.0 446.7 1510.0 446.5C1506.0 446.3 1502.0 446.1 1498.0 445.9C1494.0 445.8 1490.0 445.6 1486.0 445.5C1482.0 445.3 1478.0 445.2 1474.0 445.0C1470.0 444.9 1466.0 444.6 1462.0 444.6C1458.0 444.6 1454.0 444.9 1450.0 445.1C1446.0 445.3 1442.0 445.6 1438.0 445.9C1434.0 446.1 1430.0 446.2 1426.0 446.6C1422.0 447.0 1418.0 447.6 1414.0 448.3C1410.0 449.0 1406.0 450.0 1402.0 450.9C1398.0 451.8 1394.0 452.6 1390.0 453.5C1386.0 454.4 1382.0 455.2 1378.0 456.1C1374.0 457.0 1370.0 457.9 1366.0 458.7C1362.0 459.5 1358.0 460.3 1354.0 461.0C1350.0 461.7 1346.0 462.3 1342.0 463.0C1338.0 463.7 1334.0 464.3 1330.0 465.0C1326.0 465.7 1322.0 466.3 1318.0 467.0C1314.0 467.7 1310.0 468.4 1306.0 469.0C1302.0 469.6 1298.0 470.1 1294.0 470.4C1290.0 470.8 1286.0 471.1 1282.0 471.4C1278.0 471.7 1274.0 472.0 1270.0 472.2C1266.0 472.5 1262.0 472.9 1258.0 472.9C1254.0 472.8 1250.0 472.2 1246.0 471.9C1242.0 471.6 1238.0 471.4 1234.0 471.1C1230.0 470.8 1226.0 470.9 1222.0 470.1C1218.0 469.4 1214.0 467.8 1210.0 466.5C1206.0 465.2 1202.0 463.7 1198.0 462.3C1194.0 460.9 1190.0 459.8 1186.0 458.1C1182.0 456.4 1178.0 454.5 1174.0 452.2C1170.0 450.0 1166.0 447.2 1162.0 444.8C1158.0 442.2 1154.0 439.9 1150.0 437.2C1146.0 434.6 1142.0 432.4 1138.0 428.8C1134.0 425.1 1130.0 419.4 1126.0 415.2C1122.0 411.1 1118.0 407.1 1114.0 403.6C1110.0 400.0 1106.0 397.6 1102.0 393.7C1098.0 389.7 1094.0 384.7 1090.0 380.0C1086.0 375.3 1082.0 370.3 1078.0 365.6C1074.0 360.9 1070.0 356.2 1066.0 351.7C1062.0 347.3 1058.0 343.2 1054.0 338.9C1050.0 334.7 1046.0 330.3 1042.0 326.1C1038.0 321.9 1034.0 317.8 1030.0 313.7C1026.0 309.5 1022.0 305.0 1018.0 301.3C1014.0 297.6 1010.0 293.9 1006.0 291.5C1002.0 289.0 998.0 288.4 994.0 286.8C990.0 285.3 986.0 283.7 982.0 282.2C978.0 280.6 974.0 277.9 970.0 277.5C966.0 277.2 962.0 278.8 958.0 280.3C954.0 281.8 950.0 284.6 946.0 286.7C942.0 288.9 938.0 291.1 934.0 293.3C930.0 295.5 926.0 298.5 922.0 300.0C918.0 301.5 914.0 301.6 910.0 302.2C906.0 302.8 902.0 303.1 898.0 303.4C894.0 303.6 890.0 303.6 886.0 303.8C882.0 303.9 878.0 304.1 874.0 304.2C870.0 304.4 866.0 304.6 862.0 304.7C858.0 304.9 854.0 305.0 850.0 305.2C846.0 305.4 842.0 305.6 838.0 305.7C834.0 305.8 830.0 305.9 826.0 305.7C822.0 305.6 818.0 305.2 814.0 305.0C810.0 304.7 806.0 304.4 802.0 304.2C798.0 303.9 794.0 303.5 790.0 303.4C786.0 303.3 782.0 303.4 778.0 303.4C774.0 303.4 770.0 303.4 766.0 303.4C762.0 303.4 758.0 303.4 754.0 303.4C750.0 303.4 746.0 303.3 742.0 303.4C738.0 303.5 734.0 303.7 730.0 303.9C726.0 304.2 722.0 304.6 718.0 305.0C714.0 305.3 710.0 305.7 706.0 306.0C702.0 306.3 698.0 306.7 694.0 307.0C690.0 307.3 686.0 307.6 682.0 308.0C678.0 308.3 674.0 308.6 670.0 308.9C666.0 309.3 662.0 309.6 658.0 309.9C654.0 310.2 650.0 310.5 646.0 310.8C642.0 311.1 638.0 311.4 634.0 311.7C630.0 312.0 626.0 312.3 622.0 312.6C618.0 313.0 614.0 313.3 610.0 313.6C606.0 313.9 602.0 314.2 598.0 314.4C594.0 314.6 590.0 314.8 586.0 314.9C582.0 315.1 578.0 315.3 574.0 315.5C570.0 315.6 566.0 315.8 562.0 316.0C558.0 316.2 554.0 316.3 550.0 316.5C546.0 316.7 542.0 316.8 538.0 317.0C534.0 317.2 530.0 317.4 526.0 317.5C522.0 317.7 518.0 317.9 514.0 318.1C510.0 318.2 506.0 318.4 502.0 318.6C498.0 318.7 494.0 318.8 490.0 318.9C486.0 319.0 482.0 319.1 478.0 319.2C474.0 319.3 470.0 319.4 466.0 319.5C462.0 319.6 458.0 319.6 454.0 319.7C450.0 319.8 446.0 319.9 442.0 320.0C438.0 320.1 434.0 320.2 430.0 320.3C426.0 320.4 422.0 320.5 418.0 320.6C414.0 320.7 410.0 320.7 406.0 320.9C402.0 321.0 398.0 321.1 394.0 321.3C390.0 321.5 386.0 321.8 382.0 322.0C378.0 322.2 374.0 322.4 370.0 322.6C366.0 322.9 362.0 323.1 358.0 323.3C354.0 323.5 350.0 323.8 346.0 324.0C342.0 324.2 338.0 324.4 334.0 324.6C330.0 324.9 326.0 325.1 322.0 325.3C318.0 325.5 314.0 325.7 310.0 326.0C306.0 326.2 302.0 326.4 298.0 326.8C294.0 327.2 290.0 327.9 286.0 328.5C282.0 329.1 278.0 329.6 274.0 330.2C270.0 330.8 266.0 331.3 262.0 331.9C258.0 332.5 252.0 333.3 250.0 333.6Z"/>
<path class="rl" d="M250.0 297.6C258.3 297.6 275.0 297.8 300.0 297.5C325.0 297.2 366.7 296.8 400.0 296.0C433.3 295.2 466.7 294.3 500.0 293.0C533.3 291.7 573.3 289.7 600.0 288.0C626.7 286.3 637.3 284.9 660.0 283.0C682.7 281.1 714.3 277.5 736.0 276.4C757.7 275.3 774.3 276.0 790.0 276.4C805.7 276.8 815.0 278.9 830.0 279.0C845.0 279.1 865.0 277.6 880.0 277.0C895.0 276.4 913.3 275.8 920.0 275.6L920.0 275.6C923.3 274.0 932.3 269.6 940.0 266.0C947.7 262.4 961.7 256.0 966.0 254.0L966.0 254.0C973.3 256.8 1002.7 268.2 1010.0 271.0L1010.0 271.0C1015.0 276.2 1030.0 291.5 1040.0 302.0C1050.0 312.5 1060.0 322.7 1070.0 334.0C1080.0 345.3 1091.7 361.3 1100.0 370.0C1108.3 378.7 1113.3 379.7 1120.0 386.0C1126.7 392.3 1130.0 400.3 1140.0 408.0C1150.0 415.7 1166.7 426.2 1180.0 432.0C1193.3 437.8 1206.7 441.2 1220.0 443.0C1233.3 444.8 1246.7 443.5 1260.0 443.0C1273.3 442.5 1283.3 442.2 1300.0 440.0C1316.7 437.8 1340.0 433.8 1360.0 430.0C1380.0 426.2 1403.3 420.0 1420.0 417.0C1436.7 414.0 1446.7 413.0 1460.0 412.0C1473.3 411.0 1480.0 410.7 1500.0 411.0C1520.0 411.3 1547.3 412.3 1580.0 414.0C1612.7 415.7 1656.7 418.7 1696.0 421.0C1735.3 423.3 1776.0 426.5 1816.0 428.0C1856.0 429.5 1899.3 429.8 1936.0 430.0C1972.7 430.2 2004.5 430.0 2036.0 429.0C2067.5 428.0 2110.2 424.8 2125.0 424.0"/>
</g>
</g>
<g id="panelB">
<rect x="248.0" y="702" width="252.6" height="651" fill="#ffc6c6"/>
<rect x="909.0" y="702" width="256.0" height="651" fill="#ffe5c9"/>
<rect x="1165.0" y="702" width="252.8" height="651" fill="#d0e8f2"/>
<clipPath id="clipB"><rect x="160" y="702" width="1960" height="650"/></clipPath>
<g clip-path="url(#clipB)">
<g class="c" style="stroke-width:2.4"><circle cx="790.9" cy="1106.2" r="11.9"/><circle cx="492.6" cy="1084.7" r="11.9"/><circle cx="621.6" cy="1078.1" r="11.9"/><circle cx="619.0" cy="1080.7" r="11.9"/><circle cx="891.1" cy="1129.5" r="11.9"/><circle cx="581.1" cy="1075.4" r="11.9"/><circle cx="721.5" cy="1083.9" r="11.9"/><circle cx="475.0" cy="1049.8" r="11.9"/><circle cx="891.2" cy="1197.6" r="11.9"/><circle cx="368.8" cy="1065.4" r="11.9"/><circle cx="779.1" cy="1092.6" r="11.9"/><circle cx="822.2" cy="1089.4" r="11.9"/><circle cx="279.1" cy="1078.6" r="11.9"/><circle cx="894.1" cy="1215.6" r="11.9"/><circle cx="604.1" cy="1077.2" r="11.9"/><circle cx="463.4" cy="1055.1" r="11.9"/><circle cx="716.7" cy="1061.1" r="11.9"/><circle cx="901.5" cy="1233.7" r="11.9"/><circle cx="304.3" cy="1078.8" r="11.9"/><circle cx="575.9" cy="1082.9" r="11.9"/><circle cx="875.5" cy="1130.4" r="11.9"/><circle cx="509.8" cy="1081.5" r="11.9"/><circle cx="383.8" cy="1072.7" r="11.9"/><circle cx="835.8" cy="1112.7" r="11.9"/><circle cx="773.4" cy="1098.3" r="11.9"/><circle cx="662.9" cy="1058.9" r="11.9"/><circle cx="425.1" cy="1051.0" r="11.9"/><circle cx="645.4" cy="1083.5" r="11.9"/><circle cx="511.2" cy="1082.3" r="11.9"/><circle cx="375.9" cy="1061.8" r="11.9"/><circle cx="785.9" cy="1092.6" r="11.9"/><circle cx="529.1" cy="1047.8" r="11.9"/><circle cx="768.7" cy="1114.9" r="11.9"/><circle cx="460.5" cy="1053.4" r="11.9"/><circle cx="317.0" cy="1075.4" r="11.9"/><circle cx="759.9" cy="1076.1" r="11.9"/><circle cx="762.4" cy="1078.6" r="11.9"/><circle cx="522.7" cy="1050.0" r="11.9"/><circle cx="681.7" cy="1048.5" r="11.9"/><circle cx="559.1" cy="1054.4" r="11.9"/><circle cx="289.0" cy="1067.5" r="11.9"/><circle cx="898.9" cy="1234.4" r="11.9"/><circle cx="839.8" cy="1158.5" r="11.9"/><circle cx="859.8" cy="1176.2" r="11.9"/><circle cx="322.8" cy="1051.2" r="11.9"/><circle cx="885.3" cy="1123.9" r="11.9"/><circle cx="838.8" cy="1187.2" r="11.9"/><circle cx="415.5" cy="1063.9" r="11.9"/><circle cx="770.4" cy="1096.5" r="11.9"/><circle cx="617.5" cy="1048.4" r="11.9"/><circle cx="764.6" cy="1112.3" r="11.9"/><circle cx="898.7" cy="1147.9" r="11.9"/><circle cx="886.3" cy="1188.9" r="11.9"/><circle cx="742.5" cy="1076.9" r="11.9"/><circle cx="261.4" cy="1077.8" r="11.9"/><circle cx="772.1" cy="1072.1" r="11.9"/><circle cx="546.8" cy="1047.3" r="11.9"/><circle cx="745.1" cy="1092.3" r="11.9"/><circle cx="827.4" cy="1110.5" r="11.9"/><circle cx="315.7" cy="1083.1" r="11.9"/><circle cx="761.9" cy="1070.7" r="11.9"/><circle cx="457.7" cy="1049.4" r="11.9"/><circle cx="671.0" cy="1093.3" r="11.9"/><circle cx="769.7" cy="1092.8" r="11.9"/><circle cx="883.4" cy="1210.8" r="11.9"/><circle cx="343.0" cy="1052.3" r="11.9"/><circle cx="573.2" cy="1066.5" r="11.9"/><circle cx="298.2" cy="1078.3" r="11.9"/><circle cx="616.1" cy="1072.1" r="11.9"/><circle cx="268.1" cy="1075.1" r="11.9"/><circle cx="513.9" cy="1086.5" r="11.9"/><circle cx="670.1" cy="1079.8" r="11.9"/><circle cx="776.4" cy="1082.9" r="11.9"/><circle cx="772.3" cy="1129.5" r="11.9"/><circle cx="875.8" cy="1192.4" r="11.9"/><circle cx="545.3" cy="1069.8" r="11.9"/><circle cx="420.5" cy="1072.1" r="11.9"/><circle cx="838.7" cy="1190.9" r="11.9"/><circle cx="569.0" cy="1066.6" r="11.9"/><circle cx="904.5" cy="1232.2" r="11.9"/><circle cx="777.4" cy="1087.8" r="11.9"/><circle cx="846.2" cy="1098.6" r="11.9"/><circle cx="793.4" cy="1106.2" r="11.9"/><circle cx="649.3" cy="1091.1" r="11.9"/><circle cx="667.2" cy="1050.1" r="11.9"/><circle cx="674.6" cy="1065.5" r="11.9"/><circle cx="541.7" cy="1059.3" r="11.9"/><circle cx="502.5" cy="1077.0" r="11.9"/><circle cx="520.3" cy="1074.6" r="11.9"/><circle cx="862.4" cy="1125.0" r="11.9"/><circle cx="878.6" cy="1143.0" r="11.9"/><circle cx="789.3" cy="1120.4" r="11.9"/><circle cx="649.3" cy="1060.6" r="11.9"/><circle cx="384.2" cy="1066.3" r="11.9"/><circle cx="268.1" cy="1069.9" r="11.9"/><circle cx="518.5" cy="1082.9" r="11.9"/><circle cx="844.1" cy="1120.1" r="11.9"/><circle cx="337.8" cy="1053.6" r="11.9"/><circle cx="360.0" cy="1076.7" r="11.9"/><circle cx="866.3" cy="1161.2" r="11.9"/><circle cx="625.6" cy="1063.2" r="11.9"/><circle cx="763.4" cy="1116.0" r="11.9"/><circle cx="882.6" cy="1208.3" r="11.9"/><circle cx="661.8" cy="1085.0" r="11.9"/><circle cx="900.6" cy="1177.6" r="11.9"/><circle cx="632.6" cy="1092.5" r="11.9"/><circle cx="556.6" cy="1072.8" r="11.9"/><circle cx="316.3" cy="1072.5" r="11.9"/><circle cx="889.0" cy="1113.1" r="11.9"/><circle cx="542.3" cy="1069.0" r="11.9"/><circle cx="681.8" cy="1050.4" r="11.9"/><circle cx="410.6" cy="1057.9" r="11.9"/><circle cx="902.5" cy="1194.3" r="11.9"/><circle cx="545.0" cy="1051.6" r="11.9"/><circle cx="842.6" cy="1141.1" r="11.9"/><circle cx="855.8" cy="1191.1" r="11.9"/><circle cx="856.4" cy="1194.5" r="11.9"/><circle cx="895.0" cy="1194.7" r="11.9"/><circle cx="813.8" cy="1089.2" r="11.9"/><circle cx="339.8" cy="1082.9" r="11.9"/><circle cx="693.2" cy="1059.8" r="11.9"/><circle cx="452.5" cy="1085.6" r="11.9"/><circle cx="259.8" cy="1068.6" r="11.9"/><circle cx="436.3" cy="1066.0" r="11.9"/><circle cx="592.8" cy="1049.0" r="11.9"/><circle cx="816.3" cy="1085.3" r="11.9"/><circle cx="600.5" cy="1063.7" r="11.9"/><circle cx="849.2" cy="1206.9" r="11.9"/><circle cx="730.8" cy="1062.8" r="11.9"/><circle cx="803.9" cy="1103.1" r="11.9"/><circle cx="286.2" cy="1064.3" r="11.9"/><circle cx="300.3" cy="1049.3" r="11.9"/><circle cx="387.2" cy="1070.3" r="11.9"/><circle cx="851.8" cy="1131.9" r="11.9"/><circle cx="776.0" cy="1097.1" r="11.9"/><circle cx="807.6" cy="1096.7" r="11.9"/><circle cx="671.3" cy="1098.6" r="11.9"/><circle cx="638.3" cy="1079.6" r="11.9"/><circle cx="744.7" cy="1118.8" r="11.9"/><circle cx="860.9" cy="1206.6" r="11.9"/><circle cx="590.2" cy="1050.6" r="11.9"/><circle cx="568.5" cy="1077.8" r="11.9"/><circle cx="450.1" cy="1084.4" r="11.9"/><circle cx="889.4" cy="1200.2" r="11.9"/><circle cx="781.5" cy="1071.3" r="11.9"/><circle cx="305.7" cy="1048.6" r="11.9"/><circle cx="710.4" cy="1105.6" r="11.9"/><circle cx="561.6" cy="1071.4" r="11.9"/><circle cx="799.2" cy="1086.9" r="11.9"/><circle cx="687.8" cy="1064.6" r="11.9"/><circle cx="866.9" cy="1178.8" r="11.9"/><circle cx="612.1" cy="1074.7" r="11.9"/><circle cx="743.1" cy="1084.2" r="11.9"/><circle cx="612.2" cy="1055.2" r="11.9"/><circle cx="605.3" cy="1080.8" r="11.9"/><circle cx="364.7" cy="1053.8" r="11.9"/><circle cx="849.9" cy="1205.5" r="11.9"/><circle cx="794.4" cy="1075.7" r="11.9"/><circle cx="260.2" cy="1078.6" r="11.9"/><circle cx="566.2" cy="1061.8" r="11.9"/><circle cx="640.5" cy="1084.0" r="11.9"/><circle cx="681.4" cy="1098.7" r="11.9"/><circle cx="791.1" cy="1088.3" r="11.9"/><circle cx="768.3" cy="1130.5" r="11.9"/><circle cx="873.0" cy="1210.6" r="11.9"/><circle cx="845.0" cy="1160.8" r="11.9"/><circle cx="575.7" cy="1048.5" r="11.9"/><circle cx="745.6" cy="1083.1" r="11.9"/><circle cx="717.8" cy="1054.6" r="11.9"/><circle cx="819.7" cy="1105.3" r="11.9"/><circle cx="736.8" cy="1065.8" r="11.9"/><circle cx="488.8" cy="1061.8" r="11.9"/><circle cx="481.2" cy="1075.1" r="11.9"/><circle cx="808.9" cy="1178.1" r="11.9"/><circle cx="890.7" cy="1201.6" r="11.9"/><circle cx="880.8" cy="1131.3" r="11.9"/><circle cx="857.5" cy="1131.4" r="11.9"/><circle cx="872.4" cy="1131.1" r="11.9"/><circle cx="280.3" cy="1054.4" r="11.9"/><circle cx="778.7" cy="1121.8" r="11.9"/><circle cx="775.1" cy="1081.6" r="11.9"/><circle cx="391.9" cy="1054.7" r="11.9"/><circle cx="578.2" cy="1059.1" r="11.9"/><circle cx="385.2" cy="1066.9" r="11.9"/><circle cx="824.5" cy="1119.9" r="11.9"/><circle cx="821.3" cy="1129.6" r="11.9"/><circle cx="711.3" cy="1101.2" r="11.9"/><circle cx="593.9" cy="1087.8" r="11.9"/><circle cx="859.0" cy="1201.6" r="11.9"/><circle cx="566.9" cy="1048.1" r="11.9"/><circle cx="558.5" cy="1062.2" r="11.9"/><circle cx="814.2" cy="1143.3" r="11.9"/><circle cx="333.1" cy="1063.0" r="11.9"/><circle cx="589.9" cy="1052.9" r="11.9"/><circle cx="817.0" cy="1087.5" r="11.9"/><circle cx="825.9" cy="1135.9" r="11.9"/><circle cx="891.5" cy="1146.8" r="11.9"/><circle cx="902.5" cy="1197.6" r="11.9"/><circle cx="783.4" cy="1132.2" r="11.9"/><circle cx="627.0" cy="1086.4" r="11.9"/><circle cx="799.2" cy="1076.0" r="11.9"/><circle cx="294.5" cy="1072.3" r="11.9"/><circle cx="408.8" cy="1070.9" r="11.9"/><circle cx="458.9" cy="1053.1" r="11.9"/><circle cx="716.8" cy="1081.9" r="11.9"/><circle cx="624.9" cy="1062.4" r="11.9"/><circle cx="841.7" cy="1099.9" r="11.9"/><circle cx="818.6" cy="1104.6" r="11.9"/><circle cx="800.0" cy="1162.7" r="11.9"/><circle cx="802.9" cy="1162.0" r="11.9"/><circle cx="880.3" cy="1222.1" r="11.9"/><circle cx="833.0" cy="1191.9" r="11.9"/><circle cx="870.6" cy="1168.6" r="11.9"/><circle cx="800.0" cy="1169.4" r="11.9"/><circle cx="729.8" cy="1085.0" r="11.9"/><circle cx="698.8" cy="1104.2" r="11.9"/><circle cx="315.3" cy="1072.1" r="11.9"/><circle cx="539.1" cy="1079.9" r="11.9"/><circle cx="706.0" cy="1107.3" r="11.9"/><circle cx="708.7" cy="1054.4" r="11.9"/><circle cx="844.8" cy="1177.6" r="11.9"/><circle cx="735.5" cy="1109.2" r="11.9"/><circle cx="803.0" cy="1087.0" r="11.9"/><circle cx="826.3" cy="1170.2" r="11.9"/><circle cx="879.4" cy="1165.8" r="11.9"/><circle cx="619.4" cy="1057.9" r="11.9"/><circle cx="350.1" cy="1052.9" r="11.9"/><circle cx="706.9" cy="1060.0" r="11.9"/><circle cx="271.5" cy="1067.1" r="11.9"/><circle cx="832.2" cy="1106.6" r="11.9"/><circle cx="846.0" cy="1166.2" r="11.9"/><circle cx="762.3" cy="1102.6" r="11.9"/><circle cx="803.5" cy="1112.8" r="11.9"/><circle cx="872.3" cy="1155.8" r="11.9"/><circle cx="861.8" cy="1164.0" r="11.9"/><circle cx="440.3" cy="1067.4" r="11.9"/><circle cx="544.2" cy="1057.3" r="11.9"/><circle cx="467.3" cy="1051.9" r="11.9"/><circle cx="762.3" cy="1105.8" r="11.9"/><circle cx="806.1" cy="1162.7" r="11.9"/><circle cx="851.6" cy="1163.4" r="11.9"/><circle cx="804.6" cy="1142.5" r="11.9"/><circle cx="898.5" cy="1153.3" r="11.9"/><circle cx="546.5" cy="1071.8" r="11.9"/><circle cx="880.4" cy="1146.5" r="11.9"/><circle cx="859.8" cy="1206.5" r="11.9"/><circle cx="878.7" cy="1199.7" r="11.9"/><circle cx="739.0" cy="1104.7" r="11.9"/><circle cx="590.9" cy="1093.5" r="11.9"/><circle cx="895.8" cy="1144.1" r="11.9"/><circle cx="682.0" cy="1072.5" r="11.9"/><circle cx="350.0" cy="1063.2" r="11.9"/><circle cx="684.8" cy="1056.9" r="11.9"/><circle cx="291.6" cy="1083.7" r="11.9"/><circle cx="759.1" cy="1095.9" r="11.9"/><circle cx="739.9" cy="1078.5" r="11.9"/><circle cx="669.4" cy="1080.7" r="11.9"/><circle cx="842.9" cy="1172.1" r="11.9"/><circle cx="856.2" cy="1138.3" r="11.9"/><circle cx="874.1" cy="1187.6" r="11.9"/><circle cx="583.3" cy="1053.4" r="11.9"/><circle cx="780.0" cy="1133.9" r="11.9"/><circle cx="625.4" cy="1094.4" r="11.9"/><circle cx="619.5" cy="1085.1" r="11.9"/><circle cx="433.7" cy="1053.1" r="11.9"/><circle cx="588.1" cy="1091.7" r="11.9"/><circle cx="390.9" cy="1069.8" r="11.9"/><circle cx="818.6" cy="1115.2" r="11.9"/><circle cx="754.7" cy="1131.5" r="11.9"/><circle cx="391.5" cy="1058.5" r="11.9"/><circle cx="830.4" cy="1164.8" r="11.9"/><circle cx="496.0" cy="1057.3" r="11.9"/><circle cx="431.9" cy="1056.7" r="11.9"/><circle cx="632.1" cy="1095.5" r="11.9"/><circle cx="744.7" cy="1097.5" r="11.9"/><circle cx="817.5" cy="1125.5" r="11.9"/><circle cx="460.9" cy="1064.0" r="11.9"/><circle cx="651.4" cy="1055.6" r="11.9"/><circle cx="770.5" cy="1108.0" r="11.9"/><circle cx="293.2" cy="1074.4" r="11.9"/><circle cx="766.9" cy="1098.8" r="11.9"/><circle cx="623.2" cy="1055.9" r="11.9"/><circle cx="819.4" cy="1181.1" r="11.9"/><circle cx="489.5" cy="1076.7" r="11.9"/><circle cx="296.6" cy="1049.6" r="11.9"/><circle cx="539.7" cy="1081.0" r="11.9"/><circle cx="834.4" cy="1193.0" r="11.9"/><circle cx="702.8" cy="1053.2" r="11.9"/><circle cx="736.8" cy="1095.3" r="11.9"/><circle cx="717.9" cy="1077.1" r="11.9"/><circle cx="698.3" cy="1103.6" r="11.9"/><circle cx="314.2" cy="1080.8" r="11.9"/><circle cx="255.3" cy="1070.0" r="11.9"/><circle cx="553.8" cy="1050.2" r="11.9"/><circle cx="747.3" cy="1065.1" r="11.9"/><circle cx="481.4" cy="1053.6" r="11.9"/><circle cx="864.1" cy="1171.2" r="11.9"/><circle cx="473.2" cy="1078.0" r="11.9"/><circle cx="833.8" cy="1117.9" r="11.9"/><circle cx="640.8" cy="1058.8" r="11.9"/><circle cx="854.9" cy="1183.4" r="11.9"/><circle cx="366.0" cy="1051.9" r="11.9"/><circle cx="640.9" cy="1073.0" r="11.9"/><circle cx="747.4" cy="1068.9" r="11.9"/><circle cx="798.1" cy="1104.7" r="11.9"/><circle cx="860.1" cy="1174.5" r="11.9"/><circle cx="755.0" cy="1086.6" r="11.9"/><circle cx="903.7" cy="1213.1" r="11.9"/><circle cx="577.5" cy="1065.7" r="11.9"/><circle cx="392.3" cy="1072.6" r="11.9"/><circle cx="376.1" cy="1063.3" r="11.9"/><circle cx="586.5" cy="1086.3" r="11.9"/><circle cx="820.9" cy="1154.2" r="11.9"/><circle cx="617.9" cy="1089.5" r="11.9"/><circle cx="714.9" cy="1112.4" r="11.9"/><circle cx="723.5" cy="1102.8" r="11.9"/><circle cx="899.7" cy="1189.7" r="11.9"/><circle cx="619.5" cy="1078.5" r="11.9"/><circle cx="761.5" cy="1108.3" r="11.9"/><circle cx="799.0" cy="1116.9" r="11.9"/><circle cx="767.1" cy="1090.2" r="11.9"/><circle cx="838.6" cy="1115.1" r="11.9"/><circle cx="899.9" cy="1181.0" r="11.9"/><circle cx="750.6" cy="1098.5" r="11.9"/><circle cx="836.8" cy="1113.4" r="11.9"/><circle cx="828.8" cy="1105.4" r="11.9"/><circle cx="524.6" cy="1078.6" r="11.9"/><circle cx="564.2" cy="1057.7" r="11.9"/><circle cx="582.5" cy="1060.4" r="11.9"/><circle cx="402.1" cy="1072.2" r="11.9"/><circle cx="405.4" cy="1058.0" r="11.9"/><circle cx="753.2" cy="1076.3" r="11.9"/><circle cx="775.8" cy="1080.1" r="11.9"/><circle cx="569.4" cy="1082.4" r="11.9"/><circle cx="903.5" cy="1166.5" r="11.9"/><circle cx="673.0" cy="1093.0" r="11.9"/><circle cx="776.2" cy="1088.7" r="11.9"/><circle cx="891.9" cy="1217.5" r="11.9"/><circle cx="902.1" cy="1209.1" r="11.9"/><circle cx="562.6" cy="1081.8" r="11.9"/><circle cx="711.5" cy="1057.3" r="11.9"/><circle cx="854.5" cy="1150.3" r="11.9"/><circle cx="502.1" cy="1083.3" r="11.9"/><circle cx="439.9" cy="1073.1" r="11.9"/><circle cx="580.7" cy="1084.0" r="11.9"/><circle cx="843.4" cy="1199.7" r="11.9"/><circle cx="719.8" cy="1094.0" r="11.9"/><circle cx="805.9" cy="1101.9" r="11.9"/><circle cx="589.3" cy="1074.2" r="11.9"/><circle cx="269.2" cy="1076.8" r="11.9"/><circle cx="287.9" cy="1060.3" r="11.9"/><circle cx="276.5" cy="1052.7" r="11.9"/><circle cx="279.7" cy="1067.1" r="11.9"/><circle cx="265.1" cy="1059.1" r="11.9"/><circle cx="251.7" cy="1058.2" r="11.9"/><circle cx="266.9" cy="1063.0" r="11.9"/><circle cx="254.8" cy="1070.1" r="11.9"/><circle cx="248.4" cy="1056.6" r="11.9"/><circle cx="260.5" cy="1056.6" r="11.9"/><circle cx="283.8" cy="1076.7" r="11.9"/><circle cx="268.7" cy="1060.7" r="11.9"/><circle cx="285.1" cy="1071.7" r="11.9"/><circle cx="276.6" cy="1076.0" r="11.9"/><circle cx="251.3" cy="1067.4" r="11.9"/><circle cx="259.8" cy="1077.1" r="11.9"/><circle cx="250.8" cy="1075.0" r="11.9"/><circle cx="288.3" cy="1053.5" r="11.9"/><circle cx="286.9" cy="1065.2" r="11.9"/><circle cx="287.6" cy="1064.2" r="11.9"/><circle cx="291.1" cy="1060.2" r="11.9"/><circle cx="256.5" cy="1068.4" r="11.9"/><circle cx="290.9" cy="1058.6" r="11.9"/><circle cx="278.2" cy="1058.9" r="11.9"/><circle cx="264.4" cy="1068.0" r="11.9"/><circle cx="281.9" cy="1064.9" r="11.9"/><circle cx="288.9" cy="1069.0" r="11.9"/><circle cx="249.6" cy="1068.0" r="11.9"/><circle cx="249.5" cy="1058.3" r="11.9"/><circle cx="271.5" cy="1062.6" r="11.9"/><circle cx="278.2" cy="1062.6" r="11.9"/><circle cx="283.6" cy="1066.4" r="11.9"/><circle cx="274.1" cy="1068.0" r="11.9"/><circle cx="270.1" cy="1065.9" r="11.9"/><circle cx="248.3" cy="1055.9" r="11.9"/><circle cx="261.7" cy="1057.9" r="11.9"/><circle cx="256.5" cy="1070.0" r="11.9"/><circle cx="267.5" cy="1056.2" r="11.9"/><circle cx="1065.5" cy="1043.2" r="11.9"/><circle cx="1071.1" cy="1123.5" r="11.9"/><circle cx="908.3" cy="1172.9" r="11.9"/><circle cx="930.2" cy="1146.1" r="11.9"/><circle cx="1041.4" cy="1061.6" r="11.9"/><circle cx="937.7" cy="1196.2" r="11.9"/><circle cx="1030.6" cy="1114.0" r="11.9"/><circle cx="1053.4" cy="1116.0" r="11.9"/><circle cx="1100.5" cy="1134.9" r="11.9"/><circle cx="1079.8" cy="1014.4" r="11.9"/><circle cx="1020.8" cy="1083.9" r="11.9"/><circle cx="1033.8" cy="1170.2" r="11.9"/><circle cx="967.8" cy="1180.0" r="11.9"/><circle cx="1075.4" cy="1017.4" r="11.9"/><circle cx="1115.4" cy="1153.2" r="11.9"/><circle cx="970.9" cy="1218.8" r="11.9"/><circle cx="915.8" cy="1140.7" r="11.9"/><circle cx="1114.0" cy="1177.6" r="11.9"/><circle cx="1033.4" cy="1152.4" r="11.9"/><circle cx="1002.8" cy="1224.9" r="11.9"/><circle cx="1076.3" cy="1119.8" r="11.9"/><circle cx="1019.6" cy="1209.3" r="11.9"/><circle cx="1077.1" cy="1172.7" r="11.9"/><circle cx="1001.9" cy="1185.2" r="11.9"/><circle cx="1030.9" cy="1118.1" r="11.9"/><circle cx="992.4" cy="1098.0" r="11.9"/><circle cx="1098.1" cy="1156.8" r="11.9"/><circle cx="995.0" cy="1086.5" r="11.9"/><circle cx="942.0" cy="1153.4" r="11.9"/><circle cx="1040.5" cy="1172.3" r="11.9"/><circle cx="973.0" cy="1156.3" r="11.9"/><circle cx="1085.8" cy="1169.0" r="11.9"/><circle cx="918.3" cy="1193.2" r="11.9"/><circle cx="955.5" cy="1223.9" r="11.9"/><circle cx="914.7" cy="1167.2" r="11.9"/><circle cx="1009.6" cy="1196.5" r="11.9"/><circle cx="905.2" cy="1222.1" r="11.9"/><circle cx="972.1" cy="1140.6" r="11.9"/><circle cx="1059.0" cy="1148.2" r="11.9"/><circle cx="987.6" cy="1134.6" r="11.9"/><circle cx="946.3" cy="1140.0" r="11.9"/><circle cx="1087.5" cy="1019.0" r="11.9"/><circle cx="924.7" cy="1208.2" r="11.9"/><circle cx="1105.7" cy="1101.5" r="11.9"/><circle cx="905.8" cy="1203.3" r="11.9"/><circle cx="1091.3" cy="1044.5" r="11.9"/><circle cx="1041.4" cy="1130.3" r="11.9"/><circle cx="1048.1" cy="1095.0" r="11.9"/><circle cx="1075.5" cy="1074.4" r="11.9"/><circle cx="993.3" cy="1159.4" r="11.9"/><circle cx="1041.7" cy="1162.9" r="11.9"/><circle cx="1016.0" cy="1099.5" r="11.9"/><circle cx="921.8" cy="1168.1" r="11.9"/><circle cx="1076.1" cy="1060.4" r="11.9"/><circle cx="1086.6" cy="1002.4" r="11.9"/><circle cx="1117.8" cy="1171.3" r="11.9"/><circle cx="1088.7" cy="1003.3" r="11.9"/><circle cx="1087.6" cy="1034.7" r="11.9"/><circle cx="950.2" cy="1113.7" r="11.9"/><circle cx="1053.9" cy="1062.2" r="11.9"/><circle cx="1116.2" cy="1178.9" r="11.9"/><circle cx="1020.4" cy="1089.8" r="11.9"/><circle cx="973.7" cy="1105.7" r="11.9"/><circle cx="1055.3" cy="1065.2" r="11.9"/><circle cx="1096.0" cy="1094.8" r="11.9"/><circle cx="1097.5" cy="1068.7" r="11.9"/><circle cx="977.3" cy="1106.9" r="11.9"/><circle cx="1109.3" cy="1173.5" r="11.9"/><circle cx="1012.0" cy="1151.6" r="11.9"/><circle cx="1014.7" cy="1095.4" r="11.9"/><circle cx="929.4" cy="1205.2" r="11.9"/><circle cx="1073.9" cy="1122.2" r="11.9"/><circle cx="989.3" cy="1216.3" r="11.9"/><circle cx="1007.4" cy="1096.6" r="11.9"/><circle cx="959.2" cy="1189.0" r="11.9"/><circle cx="905.4" cy="1212.4" r="11.9"/><circle cx="972.5" cy="1104.6" r="11.9"/><circle cx="1023.1" cy="1165.3" r="11.9"/><circle cx="914.8" cy="1150.9" r="11.9"/><circle cx="1075.8" cy="1021.1" r="11.9"/><circle cx="981.9" cy="1225.6" r="11.9"/><circle cx="931.4" cy="1153.7" r="11.9"/><circle cx="1117.8" cy="1167.0" r="11.9"/><circle cx="968.7" cy="1162.3" r="11.9"/><circle cx="1010.8" cy="1136.5" r="11.9"/><circle cx="982.4" cy="1196.0" r="11.9"/><circle cx="1014.7" cy="1214.4" r="11.9"/><circle cx="946.1" cy="1220.3" r="11.9"/><circle cx="998.9" cy="1099.5" r="11.9"/><circle cx="1087.4" cy="1170.4" r="11.9"/><circle cx="1003.1" cy="1085.5" r="11.9"/><circle cx="998.2" cy="1128.5" r="11.9"/><circle cx="1023.3" cy="1139.3" r="11.9"/><circle cx="1044.6" cy="1142.6" r="11.9"/><circle cx="1070.6" cy="1110.3" r="11.9"/><circle cx="1131.8" cy="1172.1" r="11.9"/><circle cx="1026.5" cy="1099.8" r="11.9"/><circle cx="1047.9" cy="1092.7" r="11.9"/><circle cx="1051.3" cy="1132.2" r="11.9"/><circle cx="997.8" cy="1178.4" r="11.9"/><circle cx="1108.0" cy="1175.6" r="11.9"/><circle cx="1086.2" cy="1152.0" r="11.9"/><circle cx="994.3" cy="1080.9" r="11.9"/><circle cx="1045.2" cy="1133.2" r="11.9"/><circle cx="1083.9" cy="1142.0" r="11.9"/><circle cx="962.7" cy="1108.1" r="11.9"/><circle cx="1124.3" cy="1191.8" r="11.9"/><circle cx="1049.8" cy="1141.7" r="11.9"/><circle cx="1013.9" cy="1121.1" r="11.9"/><circle cx="961.1" cy="1207.6" r="11.9"/><circle cx="913.3" cy="1217.6" r="11.9"/><circle cx="999.1" cy="1190.0" r="11.9"/><circle cx="1099.1" cy="1074.7" r="11.9"/><circle cx="953.0" cy="1120.6" r="11.9"/><circle cx="980.0" cy="1227.8" r="11.9"/><circle cx="945.8" cy="1175.8" r="11.9"/><circle cx="1025.8" cy="1119.3" r="11.9"/><circle cx="1125.3" cy="1144.6" r="11.9"/><circle cx="967.7" cy="1210.8" r="11.9"/><circle cx="960.0" cy="1192.1" r="11.9"/><circle cx="1038.7" cy="1135.4" r="11.9"/><circle cx="1043.1" cy="1170.9" r="11.9"/><circle cx="1014.2" cy="1123.0" r="11.9"/><circle cx="923.1" cy="1201.5" r="11.9"/><circle cx="1010.4" cy="1140.0" r="11.9"/><circle cx="1129.7" cy="1185.9" r="11.9"/><circle cx="1003.8" cy="1143.5" r="11.9"/><circle cx="1012.6" cy="1144.6" r="11.9"/><circle cx="993.2" cy="1096.5" r="11.9"/><circle cx="951.6" cy="1201.9" r="11.9"/><circle cx="1065.1" cy="1054.2" r="11.9"/><circle cx="1063.5" cy="1147.4" r="11.9"/><circle cx="1038.7" cy="1088.9" r="11.9"/><circle cx="961.5" cy="1242.0" r="11.9"/><circle cx="1033.3" cy="1173.2" r="11.9"/><circle cx="945.4" cy="1118.9" r="11.9"/><circle cx="1076.8" cy="1042.3" r="11.9"/><circle cx="940.3" cy="1119.8" r="11.9"/><circle cx="1062.5" cy="1057.6" r="11.9"/><circle cx="985.5" cy="1204.1" r="11.9"/><circle cx="983.6" cy="1147.3" r="11.9"/><circle cx="1080.4" cy="1037.8" r="11.9"/><circle cx="1011.5" cy="1210.9" r="11.9"/><circle cx="1113.8" cy="1128.8" r="11.9"/><circle cx="973.5" cy="1192.7" r="11.9"/><circle cx="1103.2" cy="1102.0" r="11.9"/><circle cx="981.8" cy="1128.1" r="11.9"/><circle cx="1097.7" cy="1155.8" r="11.9"/><circle cx="1069.0" cy="1138.8" r="11.9"/><circle cx="989.5" cy="1197.6" r="11.9"/><circle cx="989.2" cy="1108.8" r="11.9"/><circle cx="1065.9" cy="1147.5" r="11.9"/><circle cx="948.4" cy="1210.9" r="11.9"/><circle cx="1030.3" cy="1100.0" r="11.9"/><circle cx="1005.2" cy="1171.7" r="11.9"/><circle cx="1077.1" cy="1097.9" r="11.9"/><circle cx="939.2" cy="1229.1" r="11.9"/><circle cx="1048.5" cy="1173.2" r="11.9"/><circle cx="907.7" cy="1210.9" r="11.9"/><circle cx="987.1" cy="1180.8" r="11.9"/><circle cx="955.4" cy="1196.9" r="11.9"/><circle cx="1055.3" cy="1157.7" r="11.9"/><circle cx="972.2" cy="1099.9" r="11.9"/><circle cx="929.1" cy="1230.2" r="11.9"/><circle cx="1075.3" cy="1054.2" r="11.9"/><circle cx="936.3" cy="1123.1" r="11.9"/><circle cx="957.4" cy="1139.7" r="11.9"/><circle cx="959.2" cy="1170.1" r="11.9"/><circle cx="922.3" cy="1225.8" r="11.9"/><circle cx="1050.9" cy="1062.6" r="11.9"/><circle cx="1089.9" cy="1138.9" r="11.9"/><circle cx="956.9" cy="1212.2" r="11.9"/><circle cx="1063.1" cy="1061.0" r="11.9"/><circle cx="990.5" cy="1163.7" r="11.9"/><circle cx="1061.8" cy="1105.9" r="11.9"/><circle cx="1068.2" cy="1015.0" r="11.9"/><circle cx="1078.0" cy="1154.1" r="11.9"/><circle cx="987.4" cy="1124.1" r="11.9"/><circle cx="973.9" cy="1182.2" r="11.9"/><circle cx="1093.1" cy="1059.0" r="11.9"/><circle cx="967.6" cy="1203.3" r="11.9"/><circle cx="979.3" cy="1228.9" r="11.9"/><circle cx="1040.3" cy="1119.3" r="11.9"/><circle cx="1043.6" cy="1174.4" r="11.9"/><circle cx="969.7" cy="1149.8" r="11.9"/><circle cx="1019.0" cy="1088.4" r="11.9"/><circle cx="1103.2" cy="1088.5" r="11.9"/><circle cx="987.1" cy="1110.6" r="11.9"/><circle cx="918.2" cy="1228.0" r="11.9"/><circle cx="985.4" cy="1165.1" r="11.9"/><circle cx="1134.1" cy="1191.4" r="11.9"/><circle cx="989.0" cy="1118.9" r="11.9"/><circle cx="1093.9" cy="1144.8" r="11.9"/><circle cx="959.9" cy="1170.4" r="11.9"/><circle cx="1039.3" cy="1117.3" r="11.9"/><circle cx="946.0" cy="1151.1" r="11.9"/><circle cx="919.8" cy="1240.0" r="11.9"/><circle cx="1065.1" cy="1017.1" r="11.9"/><circle cx="1022.1" cy="1174.2" r="11.9"/><circle cx="1140.0" cy="1174.7" r="11.9"/><circle cx="949.4" cy="1223.5" r="11.9"/><circle cx="1086.1" cy="1058.7" r="11.9"/><circle cx="998.2" cy="1112.3" r="11.9"/><circle cx="957.5" cy="1218.0" r="11.9"/><circle cx="1056.7" cy="1046.2" r="11.9"/><circle cx="1091.7" cy="1126.0" r="11.9"/><circle cx="907.3" cy="1190.8" r="11.9"/><circle cx="1055.1" cy="1065.3" r="11.9"/><circle cx="1024.5" cy="1113.4" r="11.9"/><circle cx="1068.3" cy="1049.0" r="11.9"/><circle cx="1049.3" cy="1060.6" r="11.9"/><circle cx="1106.7" cy="1126.1" r="11.9"/><circle cx="1111.3" cy="1164.0" r="11.9"/><circle cx="1109.5" cy="1171.4" r="11.9"/><circle cx="1090.3" cy="1151.3" r="11.9"/><circle cx="998.3" cy="1204.4" r="11.9"/><circle cx="938.1" cy="1209.0" r="11.9"/><circle cx="1108.4" cy="1118.3" r="11.9"/><circle cx="1050.2" cy="1175.4" r="11.9"/><circle cx="1101.9" cy="1070.4" r="11.9"/><circle cx="1004.9" cy="1188.7" r="11.9"/><circle cx="1072.8" cy="1013.8" r="11.9"/><circle cx="1014.5" cy="1096.0" r="11.9"/><circle cx="994.4" cy="1191.1" r="11.9"/><circle cx="1021.6" cy="1154.6" r="11.9"/><circle cx="1019.4" cy="1147.6" r="11.9"/><circle cx="1009.5" cy="1190.9" r="11.9"/><circle cx="979.2" cy="1116.4" r="11.9"/><circle cx="1113.2" cy="1181.8" r="11.9"/><circle cx="958.4" cy="1236.0" r="11.9"/><circle cx="1122.8" cy="1156.9" r="11.9"/><circle cx="1070.2" cy="1149.4" r="11.9"/><circle cx="915.7" cy="1128.4" r="11.9"/><circle cx="1008.8" cy="1196.2" r="11.9"/><circle cx="931.2" cy="1152.5" r="11.9"/><circle cx="965.4" cy="1159.5" r="11.9"/><circle cx="1030.6" cy="1136.6" r="11.9"/><circle cx="1116.1" cy="1140.6" r="11.9"/><circle cx="1045.2" cy="1178.7" r="11.9"/><circle cx="962.2" cy="1181.9" r="11.9"/><circle cx="982.4" cy="1139.3" r="11.9"/><circle cx="919.2" cy="1128.1" r="11.9"/><circle cx="930.2" cy="1144.8" r="11.9"/><circle cx="989.4" cy="1083.4" r="11.9"/><circle cx="1057.2" cy="1118.8" r="11.9"/><circle cx="1073.4" cy="1087.4" r="11.9"/><circle cx="1079.6" cy="1156.9" r="11.9"/><circle cx="1094.3" cy="1073.4" r="11.9"/><circle cx="983.1" cy="1123.1" r="11.9"/><circle cx="1085.9" cy="1069.1" r="11.9"/><circle cx="1003.6" cy="1184.2" r="11.9"/><circle cx="996.1" cy="1081.5" r="11.9"/><circle cx="1087.5" cy="1122.8" r="11.9"/><circle cx="1039.4" cy="1175.1" r="11.9"/><circle cx="963.8" cy="1233.5" r="11.9"/><circle cx="986.3" cy="1231.9" r="11.9"/><circle cx="1097.1" cy="1178.4" r="11.9"/><circle cx="1047.8" cy="1134.9" r="11.9"/><circle cx="1076.6" cy="1042.5" r="11.9"/><circle cx="989.1" cy="1096.4" r="11.9"/><circle cx="935.3" cy="1153.2" r="11.9"/><circle cx="1092.0" cy="1045.2" r="11.9"/><circle cx="921.3" cy="1200.1" r="11.9"/><circle cx="994.6" cy="1183.1" r="11.9"/><circle cx="990.1" cy="1196.5" r="11.9"/><circle cx="980.5" cy="1136.7" r="11.9"/><circle cx="988.2" cy="1101.7" r="11.9"/><circle cx="1052.5" cy="1043.7" r="11.9"/><circle cx="917.0" cy="1218.0" r="11.9"/><circle cx="1040.6" cy="1105.2" r="11.9"/><circle cx="1001.9" cy="1098.5" r="11.9"/><circle cx="1060.9" cy="1121.6" r="11.9"/><circle cx="1027.6" cy="1156.6" r="11.9"/><circle cx="1046.8" cy="1164.2" r="11.9"/><circle cx="966.2" cy="1185.8" r="11.9"/><circle cx="944.3" cy="1184.5" r="11.9"/><circle cx="1083.2" cy="1019.9" r="11.9"/><circle cx="953.1" cy="1170.5" r="11.9"/><circle cx="1061.5" cy="1033.3" r="11.9"/><circle cx="980.9" cy="1175.7" r="11.9"/><circle cx="1034.5" cy="1172.3" r="11.9"/><circle cx="1049.6" cy="1140.8" r="11.9"/><circle cx="992.8" cy="1103.3" r="11.9"/><circle cx="1021.0" cy="1202.8" r="11.9"/><circle cx="1121.7" cy="1154.7" r="11.9"/><circle cx="940.4" cy="1212.2" r="11.9"/><circle cx="1085.2" cy="1107.6" r="11.9"/><circle cx="1095.1" cy="1172.0" r="11.9"/><circle cx="1011.9" cy="1133.8" r="11.9"/><circle cx="987.0" cy="1207.6" r="11.9"/><circle cx="1010.9" cy="1182.1" r="11.9"/><circle cx="939.6" cy="1174.1" r="11.9"/><circle cx="1009.1" cy="1093.4" r="11.9"/><circle cx="1059.5" cy="1038.7" r="11.9"/><circle cx="982.6" cy="1123.0" r="11.9"/><circle cx="943.3" cy="1226.0" r="11.9"/><circle cx="1079.9" cy="1092.7" r="11.9"/><circle cx="985.3" cy="1094.8" r="11.9"/><circle cx="1081.2" cy="1138.3" r="11.9"/><circle cx="1001.0" cy="1118.9" r="11.9"/><circle cx="1105.7" cy="1122.4" r="11.9"/><circle cx="1025.5" cy="1116.9" r="11.9"/><circle cx="1017.6" cy="1141.1" r="11.9"/><circle cx="1004.3" cy="1203.3" r="11.9"/><circle cx="1031.4" cy="1133.7" r="11.9"/><circle cx="1130.2" cy="1306.1" r="11.9"/><circle cx="1140.0" cy="1274.0" r="11.9"/><circle cx="1088.2" cy="1297.7" r="11.9"/><circle cx="1151.3" cy="1259.1" r="11.9"/><circle cx="1075.1" cy="1286.8" r="11.9"/><circle cx="1144.5" cy="1303.8" r="11.9"/><circle cx="1150.2" cy="1252.3" r="11.9"/><circle cx="1162.7" cy="1272.9" r="11.9"/><circle cx="1163.4" cy="1296.4" r="11.9"/><circle cx="1175.6" cy="1269.5" r="11.9"/><circle cx="1129.5" cy="1279.5" r="11.9"/><circle cx="1132.7" cy="1273.9" r="11.9"/><circle cx="1083.3" cy="1264.9" r="11.9"/><circle cx="1127.4" cy="1266.2" r="11.9"/><circle cx="1145.9" cy="1274.7" r="11.9"/><circle cx="1155.3" cy="1264.7" r="11.9"/><circle cx="1147.1" cy="1290.5" r="11.9"/><circle cx="1192.6" cy="1303.0" r="11.9"/><circle cx="1184.7" cy="1287.0" r="11.9"/><circle cx="1143.9" cy="1252.4" r="11.9"/><circle cx="1136.9" cy="1281.3" r="11.9"/><circle cx="1083.5" cy="1279.8" r="11.9"/><circle cx="1135.9" cy="1283.3" r="11.9"/><circle cx="1141.3" cy="1271.8" r="11.9"/><circle cx="1117.0" cy="1280.5" r="11.9"/><circle cx="1187.4" cy="1311.1" r="11.9"/><circle cx="1095.9" cy="1270.7" r="11.9"/><circle cx="1150.1" cy="1298.4" r="11.9"/><circle cx="1150.4" cy="1268.5" r="11.9"/><circle cx="1159.8" cy="1283.6" r="11.9"/><circle cx="1132.9" cy="1314.2" r="11.9"/><circle cx="1108.8" cy="1309.8" r="11.9"/><circle cx="1161.0" cy="1298.0" r="11.9"/><circle cx="1119.0" cy="1271.8" r="11.9"/><circle cx="1161.4" cy="1289.6" r="11.9"/><circle cx="1083.9" cy="1259.5" r="11.9"/><circle cx="1162.2" cy="1251.6" r="11.9"/><circle cx="1135.8" cy="1257.8" r="11.9"/><circle cx="1160.9" cy="1270.8" r="11.9"/><circle cx="1152.5" cy="1275.4" r="11.9"/><circle cx="1177.9" cy="1252.5" r="11.9"/><circle cx="1196.8" cy="1299.3" r="11.9"/><circle cx="1075.7" cy="1255.5" r="11.9"/><circle cx="1134.8" cy="1312.6" r="11.9"/><circle cx="1175.2" cy="1261.4" r="11.9"/><circle cx="1104.4" cy="1304.0" r="11.9"/><circle cx="1148.4" cy="1311.5" r="11.9"/><circle cx="1177.1" cy="1251.5" r="11.9"/><circle cx="1153.4" cy="1304.9" r="11.9"/><circle cx="1146.1" cy="1304.6" r="11.9"/><circle cx="1162.4" cy="1286.9" r="11.9"/><circle cx="1183.2" cy="1298.1" r="11.9"/><circle cx="1106.6" cy="1289.8" r="11.9"/><circle cx="1186.4" cy="1295.2" r="11.9"/><circle cx="1185.3" cy="1256.7" r="11.9"/><circle cx="1103.7" cy="1274.5" r="11.9"/><circle cx="1149.4" cy="1264.2" r="11.9"/><circle cx="1086.2" cy="1300.3" r="11.9"/><circle cx="1133.5" cy="1263.1" r="11.9"/><circle cx="1160.8" cy="1313.1" r="11.9"/><circle cx="1167.8" cy="1282.7" r="11.9"/><circle cx="1104.9" cy="1295.9" r="11.9"/><circle cx="1141.8" cy="1277.3" r="11.9"/><circle cx="1089.1" cy="1300.6" r="11.9"/><circle cx="1092.9" cy="1268.1" r="11.9"/><circle cx="1105.8" cy="1297.1" r="11.9"/><circle cx="1153.9" cy="1269.7" r="11.9"/><circle cx="1140.4" cy="1307.3" r="11.9"/><circle cx="1081.7" cy="1279.8" r="11.9"/><circle cx="1119.3" cy="1303.5" r="11.9"/><circle cx="1182.1" cy="1307.4" r="11.9"/><circle cx="1123.5" cy="1312.5" r="11.9"/><circle cx="1169.6" cy="1287.6" r="11.9"/><circle cx="1117.2" cy="1302.1" r="11.9"/><circle cx="1157.6" cy="1317.0" r="11.9"/><circle cx="1184.2" cy="1295.3" r="11.9"/><circle cx="1128.5" cy="1279.6" r="11.9"/><circle cx="1193.0" cy="1268.3" r="11.9"/><circle cx="1113.7" cy="1276.2" r="11.9"/><circle cx="1193.6" cy="1266.9" r="11.9"/><circle cx="1184.9" cy="1274.4" r="11.9"/><circle cx="1141.5" cy="1312.9" r="11.9"/><circle cx="1114.9" cy="1269.0" r="11.9"/><circle cx="1170.8" cy="1301.9" r="11.9"/><circle cx="1191.8" cy="1282.6" r="11.9"/><circle cx="1194.6" cy="1264.9" r="11.9"/><circle cx="1160.4" cy="1314.6" r="11.9"/><circle cx="1183.7" cy="1290.3" r="11.9"/><circle cx="1170.4" cy="1280.1" r="11.9"/><circle cx="1156.8" cy="1262.4" r="11.9"/><circle cx="1092.8" cy="1305.6" r="11.9"/><circle cx="1142.6" cy="1307.9" r="11.9"/><circle cx="1083.4" cy="1262.0" r="11.9"/><circle cx="1166.1" cy="1286.2" r="11.9"/><circle cx="1092.8" cy="1299.0" r="11.9"/><circle cx="1143.2" cy="1267.5" r="11.9"/><circle cx="1106.1" cy="1294.4" r="11.9"/><circle cx="1198.8" cy="1274.6" r="11.9"/><circle cx="1102.9" cy="1295.1" r="11.9"/><circle cx="1161.0" cy="1297.0" r="11.9"/><circle cx="1128.0" cy="1307.1" r="11.9"/><circle cx="1110.5" cy="1308.7" r="11.9"/><circle cx="1141.4" cy="1265.7" r="11.9"/><circle cx="1159.0" cy="1252.2" r="11.9"/><circle cx="1168.3" cy="1270.3" r="11.9"/><circle cx="1192.0" cy="1280.2" r="11.9"/><circle cx="1114.4" cy="1290.9" r="11.9"/><circle cx="1129.6" cy="1284.9" r="11.9"/><circle cx="1090.0" cy="1291.0" r="11.9"/><circle cx="1099.0" cy="1255.9" r="11.9"/><circle cx="1133.5" cy="1254.2" r="11.9"/><circle cx="1120.2" cy="1287.7" r="11.9"/><circle cx="1177.8" cy="1272.1" r="11.9"/><circle cx="1159.6" cy="1271.1" r="11.9"/><circle cx="1116.2" cy="1272.1" r="11.9"/><circle cx="1128.6" cy="1255.4" r="11.9"/><circle cx="1141.9" cy="1312.4" r="11.9"/><circle cx="1127.0" cy="1292.5" r="11.9"/><circle cx="1143.8" cy="1288.5" r="11.9"/><circle cx="1111.4" cy="1311.2" r="11.9"/><circle cx="1079.0" cy="1290.6" r="11.9"/><circle cx="1093.5" cy="1297.6" r="11.9"/><circle cx="1078.7" cy="1282.3" r="11.9"/><circle cx="1168.0" cy="1295.6" r="11.9"/><circle cx="1125.1" cy="1313.0" r="11.9"/><circle cx="1143.8" cy="1265.3" r="11.9"/><circle cx="1099.4" cy="1308.3" r="11.9"/><circle cx="1103.0" cy="1274.3" r="11.9"/><circle cx="1168.4" cy="1290.1" r="11.9"/><circle cx="1123.3" cy="1263.6" r="11.9"/><circle cx="1079.7" cy="1279.7" r="11.9"/><circle cx="1154.1" cy="1304.3" r="11.9"/><circle cx="1087.2" cy="1277.7" r="11.9"/><circle cx="1125.5" cy="1285.7" r="11.9"/><circle cx="1168.4" cy="1292.6" r="11.9"/><circle cx="1081.5" cy="1290.8" r="11.9"/><circle cx="1141.6" cy="1310.2" r="11.9"/><circle cx="1181.7" cy="1295.7" r="11.9"/><circle cx="1131.6" cy="1258.1" r="11.9"/><circle cx="1111.4" cy="1308.7" r="11.9"/><circle cx="1121.5" cy="1304.7" r="11.9"/><circle cx="1125.4" cy="1263.9" r="11.9"/><circle cx="1136.0" cy="1314.0" r="11.9"/><circle cx="1186.4" cy="1290.6" r="11.9"/><circle cx="1124.2" cy="1274.1" r="11.9"/><circle cx="1109.4" cy="1267.2" r="11.9"/><circle cx="1079.5" cy="1277.2" r="11.9"/><circle cx="1124.6" cy="1312.0" r="11.9"/><circle cx="1164.3" cy="1287.8" r="11.9"/><circle cx="1077.6" cy="1262.1" r="11.9"/><circle cx="1097.7" cy="1165.4" r="11.9"/><circle cx="1126.4" cy="1205.7" r="11.9"/><circle cx="1112.9" cy="1196.2" r="11.9"/><circle cx="1105.3" cy="1165.2" r="11.9"/><circle cx="1136.3" cy="1207.1" r="11.9"/><circle cx="1133.8" cy="1172.7" r="11.9"/><circle cx="1120.6" cy="1212.9" r="11.9"/><circle cx="1123.4" cy="1156.6" r="11.9"/><circle cx="1129.9" cy="1218.2" r="11.9"/><circle cx="1129.1" cy="1237.8" r="11.9"/><circle cx="1125.1" cy="1157.7" r="11.9"/><circle cx="1110.6" cy="1169.2" r="11.9"/><circle cx="1125.6" cy="1206.0" r="11.9"/><circle cx="1131.3" cy="1218.3" r="11.9"/><circle cx="1163.0" cy="1227.4" r="11.9"/><circle cx="1116.1" cy="1167.1" r="11.9"/><circle cx="1140.4" cy="1204.0" r="11.9"/><circle cx="1137.4" cy="1235.5" r="11.9"/><circle cx="1095.7" cy="1176.4" r="11.9"/><circle cx="1119.7" cy="1218.7" r="11.9"/><circle cx="1147.0" cy="1197.2" r="11.9"/><circle cx="1112.9" cy="1190.6" r="11.9"/><circle cx="1160.2" cy="1217.8" r="11.9"/><circle cx="1125.8" cy="1184.4" r="11.9"/><circle cx="1121.0" cy="1176.9" r="11.9"/><circle cx="1104.2" cy="1165.9" r="11.9"/><circle cx="1101.8" cy="1167.0" r="11.9"/><circle cx="1117.9" cy="1227.5" r="11.9"/><circle cx="1110.8" cy="1180.5" r="11.9"/><circle cx="1106.6" cy="1181.5" r="11.9"/><circle cx="1122.8" cy="1212.2" r="11.9"/><circle cx="1106.0" cy="1177.4" r="11.9"/><circle cx="1131.7" cy="1210.5" r="11.9"/><circle cx="1118.4" cy="1213.6" r="11.9"/><circle cx="1142.5" cy="1210.0" r="11.9"/><circle cx="1104.2" cy="1164.1" r="11.9"/><circle cx="1798.6" cy="1285.6" r="11.9"/><circle cx="1810.6" cy="1242.4" r="11.9"/><circle cx="1224.3" cy="1290.3" r="11.9"/><circle cx="1797.7" cy="1249.7" r="11.9"/><circle cx="1363.3" cy="1243.7" r="11.9"/><circle cx="1776.8" cy="1197.2" r="11.9"/><circle cx="1449.8" cy="1262.3" r="11.9"/><circle cx="1423.1" cy="1296.8" r="11.9"/><circle cx="1742.8" cy="1224.4" r="11.9"/><circle cx="1548.3" cy="1246.1" r="11.9"/><circle cx="1674.9" cy="1239.0" r="11.9"/><circle cx="1253.1" cy="1290.3" r="11.9"/><circle cx="1410.0" cy="1296.0" r="11.9"/><circle cx="1950.5" cy="1237.7" r="11.9"/><circle cx="1582.0" cy="1266.2" r="11.9"/><circle cx="1749.1" cy="1211.4" r="11.9"/><circle cx="1702.8" cy="1278.3" r="11.9"/><circle cx="1441.9" cy="1284.1" r="11.9"/><circle cx="1739.0" cy="1249.4" r="11.9"/><circle cx="1736.7" cy="1248.4" r="11.9"/><circle cx="1709.3" cy="1247.0" r="11.9"/><circle cx="1646.0" cy="1264.6" r="11.9"/><circle cx="1566.6" cy="1262.9" r="11.9"/><circle cx="1253.4" cy="1297.2" r="11.9"/><circle cx="1564.8" cy="1257.2" r="11.9"/><circle cx="1594.7" cy="1273.8" r="11.9"/><circle cx="2074.4" cy="1203.8" r="11.9"/><circle cx="1361.9" cy="1287.8" r="11.9"/><circle cx="1375.3" cy="1264.7" r="11.9"/><circle cx="2077.1" cy="1248.6" r="11.9"/><circle cx="1727.3" cy="1267.9" r="11.9"/><circle cx="1746.7" cy="1253.0" r="11.9"/><circle cx="1818.0" cy="1233.2" r="11.9"/><circle cx="1249.0" cy="1279.7" r="11.9"/><circle cx="1734.2" cy="1248.4" r="11.9"/><circle cx="1874.1" cy="1263.6" r="11.9"/><circle cx="2053.8" cy="1219.2" r="11.9"/><circle cx="1463.4" cy="1254.5" r="11.9"/><circle cx="1437.9" cy="1271.1" r="11.9"/><circle cx="1763.0" cy="1247.3" r="11.9"/><circle cx="1722.6" cy="1253.2" r="11.9"/><circle cx="1538.1" cy="1257.5" r="11.9"/><circle cx="1666.3" cy="1265.4" r="11.9"/><circle cx="1294.6" cy="1303.0" r="11.9"/><circle cx="1950.7" cy="1264.5" r="11.9"/><circle cx="2028.9" cy="1214.7" r="11.9"/><circle cx="1845.8" cy="1246.0" r="11.9"/><circle cx="1896.1" cy="1252.1" r="11.9"/><circle cx="1315.4" cy="1273.8" r="11.9"/><circle cx="1436.7" cy="1253.5" r="11.9"/><circle cx="1787.7" cy="1210.3" r="11.9"/><circle cx="1336.7" cy="1254.4" r="11.9"/><circle cx="1734.8" cy="1237.4" r="11.9"/><circle cx="1479.7" cy="1281.1" r="11.9"/><circle cx="1822.9" cy="1270.8" r="11.9"/><circle cx="1810.3" cy="1268.0" r="11.9"/><circle cx="1592.7" cy="1255.1" r="11.9"/><circle cx="1664.4" cy="1244.0" r="11.9"/><circle cx="2075.1" cy="1241.5" r="11.9"/><circle cx="1771.2" cy="1258.9" r="11.9"/><circle cx="1799.1" cy="1266.7" r="11.9"/><circle cx="1807.1" cy="1260.6" r="11.9"/><circle cx="1217.1" cy="1273.9" r="11.9"/><circle cx="1718.2" cy="1242.2" r="11.9"/><circle cx="2082.7" cy="1258.8" r="11.9"/><circle cx="1218.5" cy="1286.9" r="11.9"/><circle cx="1202.2" cy="1281.0" r="11.9"/><circle cx="1266.5" cy="1268.4" r="11.9"/><circle cx="1234.1" cy="1267.8" r="11.9"/><circle cx="1650.2" cy="1259.2" r="11.9"/><circle cx="2067.5" cy="1227.7" r="11.9"/><circle cx="1525.3" cy="1274.4" r="11.9"/><circle cx="1778.4" cy="1228.1" r="11.9"/><circle cx="1667.6" cy="1274.8" r="11.9"/><circle cx="1406.7" cy="1277.5" r="11.9"/><circle cx="1517.6" cy="1252.3" r="11.9"/><circle cx="1846.3" cy="1269.5" r="11.9"/><circle cx="1373.7" cy="1288.1" r="11.9"/><circle cx="1324.1" cy="1294.8" r="11.9"/><circle cx="1854.7" cy="1267.4" r="11.9"/><circle cx="1488.4" cy="1265.3" r="11.9"/><circle cx="2105.7" cy="1254.1" r="11.9"/><circle cx="1618.8" cy="1270.6" r="11.9"/><circle cx="1672.1" cy="1246.2" r="11.9"/><circle cx="1700.5" cy="1242.3" r="11.9"/><circle cx="1676.8" cy="1279.7" r="11.9"/><circle cx="1671.1" cy="1260.5" r="11.9"/><circle cx="1759.4" cy="1202.8" r="11.9"/><circle cx="1860.6" cy="1243.1" r="11.9"/><circle cx="1675.4" cy="1281.8" r="11.9"/><circle cx="1215.1" cy="1277.5" r="11.9"/><circle cx="1291.9" cy="1258.9" r="11.9"/><circle cx="1437.0" cy="1236.9" r="11.9"/><circle cx="1971.3" cy="1232.4" r="11.9"/><circle cx="1764.1" cy="1258.6" r="11.9"/><circle cx="1403.1" cy="1244.2" r="11.9"/><circle cx="1600.6" cy="1266.0" r="11.9"/><circle cx="1654.5" cy="1262.7" r="11.9"/><circle cx="1823.6" cy="1268.7" r="11.9"/><circle cx="1736.4" cy="1265.7" r="11.9"/><circle cx="1438.7" cy="1278.7" r="11.9"/><circle cx="1892.9" cy="1264.5" r="11.9"/><circle cx="1994.1" cy="1239.8" r="11.9"/><circle cx="1985.1" cy="1234.5" r="11.9"/><circle cx="2117.5" cy="1231.5" r="11.9"/><circle cx="1341.0" cy="1284.8" r="11.9"/><circle cx="1777.2" cy="1207.3" r="11.9"/><circle cx="1806.3" cy="1229.0" r="11.9"/><circle cx="1484.3" cy="1268.2" r="11.9"/><circle cx="1868.0" cy="1242.5" r="11.9"/><circle cx="2097.5" cy="1212.5" r="11.9"/><circle cx="1415.8" cy="1285.6" r="11.9"/><circle cx="2008.6" cy="1232.6" r="11.9"/><circle cx="1902.5" cy="1239.3" r="11.9"/><circle cx="1981.1" cy="1237.0" r="11.9"/><circle cx="1303.8" cy="1302.4" r="11.9"/><circle cx="1364.5" cy="1286.2" r="11.9"/><circle cx="2043.6" cy="1236.7" r="11.9"/><circle cx="1210.6" cy="1269.1" r="11.9"/><circle cx="1936.5" cy="1240.7" r="11.9"/><circle cx="2068.8" cy="1252.5" r="11.9"/><circle cx="1644.9" cy="1250.5" r="11.9"/><circle cx="2022.5" cy="1254.0" r="11.9"/><circle cx="1664.8" cy="1263.7" r="11.9"/><circle cx="1510.0" cy="1267.5" r="11.9"/><circle cx="1223.5" cy="1264.8" r="11.9"/><circle cx="1265.2" cy="1280.6" r="11.9"/><circle cx="1421.0" cy="1287.2" r="11.9"/><circle cx="1667.7" cy="1243.8" r="11.9"/><circle cx="2067.1" cy="1216.8" r="11.9"/><circle cx="1802.5" cy="1213.7" r="11.9"/><circle cx="1368.7" cy="1280.3" r="11.9"/><circle cx="1605.3" cy="1278.5" r="11.9"/><circle cx="2071.3" cy="1248.7" r="11.9"/><circle cx="1363.6" cy="1290.2" r="11.9"/><circle cx="1793.6" cy="1272.7" r="11.9"/><circle cx="1641.4" cy="1241.1" r="11.9"/><circle cx="1274.9" cy="1254.5" r="11.9"/><circle cx="1339.5" cy="1257.8" r="11.9"/><circle cx="1289.6" cy="1260.5" r="11.9"/><circle cx="1379.2" cy="1288.9" r="11.9"/><circle cx="1795.4" cy="1274.0" r="11.9"/><circle cx="1237.7" cy="1256.8" r="11.9"/><circle cx="1901.0" cy="1243.2" r="11.9"/><circle cx="2087.3" cy="1203.7" r="11.9"/><circle cx="1772.3" cy="1218.8" r="11.9"/><circle cx="1203.5" cy="1306.3" r="11.9"/><circle cx="1200.3" cy="1273.9" r="11.9"/><circle cx="1810.3" cy="1216.6" r="11.9"/><circle cx="1269.6" cy="1274.4" r="11.9"/><circle cx="1385.7" cy="1281.2" r="11.9"/><circle cx="1204.4" cy="1272.2" r="11.9"/><circle cx="1376.9" cy="1252.5" r="11.9"/><circle cx="1780.9" cy="1262.9" r="11.9"/><circle cx="2045.7" cy="1216.2" r="11.9"/><circle cx="1307.9" cy="1280.2" r="11.9"/><circle cx="1534.3" cy="1285.4" r="11.9"/><circle cx="1407.2" cy="1273.6" r="11.9"/><circle cx="2119.7" cy="1236.6" r="11.9"/><circle cx="1951.6" cy="1250.9" r="11.9"/><circle cx="1315.1" cy="1288.4" r="11.9"/><circle cx="1938.2" cy="1261.7" r="11.9"/><circle cx="1965.3" cy="1262.6" r="11.9"/><circle cx="1247.1" cy="1266.1" r="11.9"/><circle cx="2104.4" cy="1237.2" r="11.9"/><circle cx="1742.0" cy="1224.5" r="11.9"/><circle cx="1474.1" cy="1288.3" r="11.9"/><circle cx="1411.7" cy="1293.5" r="11.9"/><circle cx="1990.9" cy="1241.0" r="11.9"/><circle cx="1455.4" cy="1273.6" r="11.9"/><circle cx="2077.1" cy="1260.5" r="11.9"/><circle cx="1431.3" cy="1257.7" r="11.9"/><circle cx="1729.0" cy="1250.3" r="11.9"/><circle cx="1333.6" cy="1256.5" r="11.9"/><circle cx="1431.0" cy="1244.8" r="11.9"/><circle cx="1371.9" cy="1280.0" r="11.9"/><circle cx="1745.3" cy="1251.7" r="11.9"/><circle cx="1597.8" cy="1262.4" r="11.9"/><circle cx="1370.1" cy="1292.9" r="11.9"/><circle cx="1440.3" cy="1280.6" r="11.9"/><circle cx="1790.2" cy="1219.6" r="11.9"/><circle cx="1580.8" cy="1278.6" r="11.9"/><circle cx="1447.1" cy="1237.6" r="11.9"/><circle cx="1431.5" cy="1238.0" r="11.9"/><circle cx="1593.5" cy="1270.2" r="11.9"/><circle cx="1394.3" cy="1255.8" r="11.9"/><circle cx="1915.8" cy="1268.5" r="11.9"/><circle cx="1285.8" cy="1274.8" r="11.9"/><circle cx="1788.7" cy="1243.8" r="11.9"/><circle cx="1252.0" cy="1281.1" r="11.9"/><circle cx="1806.5" cy="1285.4" r="11.9"/><circle cx="1430.5" cy="1267.8" r="11.9"/><circle cx="1752.0" cy="1259.4" r="11.9"/><circle cx="1746.2" cy="1271.7" r="11.9"/><circle cx="1463.6" cy="1282.6" r="11.9"/><circle cx="1711.2" cy="1260.0" r="11.9"/><circle cx="1297.3" cy="1275.7" r="11.9"/><circle cx="2063.0" cy="1235.0" r="11.9"/><circle cx="1772.1" cy="1226.5" r="11.9"/><circle cx="1309.6" cy="1290.7" r="11.9"/><circle cx="1290.4" cy="1277.9" r="11.9"/><circle cx="2099.4" cy="1221.7" r="11.9"/><circle cx="1449.5" cy="1291.1" r="11.9"/><circle cx="1405.3" cy="1271.8" r="11.9"/><circle cx="1953.9" cy="1250.1" r="11.9"/><circle cx="1638.4" cy="1253.2" r="11.9"/><circle cx="2100.3" cy="1243.4" r="11.9"/><circle cx="1730.0" cy="1256.8" r="11.9"/><circle cx="1679.4" cy="1240.7" r="11.9"/><circle cx="1766.0" cy="1252.5" r="11.9"/><circle cx="1924.9" cy="1268.2" r="11.9"/><circle cx="2046.6" cy="1236.3" r="11.9"/><circle cx="1770.2" cy="1233.4" r="11.9"/><circle cx="2044.2" cy="1237.2" r="11.9"/><circle cx="1298.9" cy="1282.9" r="11.9"/><circle cx="2093.5" cy="1211.7" r="11.9"/><circle cx="1624.5" cy="1260.6" r="11.9"/><circle cx="1922.9" cy="1262.4" r="11.9"/><circle cx="1384.5" cy="1295.1" r="11.9"/><circle cx="1669.6" cy="1269.0" r="11.9"/><circle cx="1209.7" cy="1308.3" r="11.9"/><circle cx="1224.6" cy="1308.4" r="11.9"/><circle cx="1778.8" cy="1248.9" r="11.9"/><circle cx="1796.3" cy="1249.6" r="11.9"/><circle cx="1497.2" cy="1284.6" r="11.9"/><circle cx="2073.6" cy="1259.3" r="11.9"/><circle cx="1385.3" cy="1280.8" r="11.9"/><circle cx="2086.6" cy="1239.3" r="11.9"/><circle cx="1524.5" cy="1251.0" r="11.9"/><circle cx="1384.5" cy="1243.8" r="11.9"/><circle cx="2075.0" cy="1254.8" r="11.9"/><circle cx="1679.4" cy="1250.7" r="11.9"/><circle cx="1800.4" cy="1279.7" r="11.9"/><circle cx="1583.5" cy="1265.4" r="11.9"/><circle cx="1443.5" cy="1295.4" r="11.9"/><circle cx="1957.9" cy="1249.6" r="11.9"/><circle cx="1493.5" cy="1261.3" r="11.9"/><circle cx="2010.1" cy="1254.1" r="11.9"/><circle cx="1258.2" cy="1279.9" r="11.9"/><circle cx="1213.0" cy="1292.8" r="11.9"/><circle cx="1775.2" cy="1208.6" r="11.9"/><circle cx="1429.5" cy="1278.4" r="11.9"/><circle cx="2064.1" cy="1213.3" r="11.9"/><circle cx="1706.1" cy="1235.6" r="11.9"/><circle cx="1656.5" cy="1273.8" r="11.9"/><circle cx="1520.8" cy="1281.5" r="11.9"/><circle cx="1310.5" cy="1267.0" r="11.9"/><circle cx="1769.5" cy="1227.7" r="11.9"/><circle cx="1339.7" cy="1292.2" r="11.9"/><circle cx="1772.3" cy="1249.7" r="11.9"/><circle cx="1770.2" cy="1211.9" r="11.9"/><circle cx="1575.8" cy="1256.9" r="11.9"/><circle cx="1428.1" cy="1264.3" r="11.9"/><circle cx="1890.8" cy="1244.9" r="11.9"/><circle cx="1844.3" cy="1267.9" r="11.9"/><circle cx="1865.9" cy="1255.4" r="11.9"/><circle cx="1508.5" cy="1247.6" r="11.9"/><circle cx="1470.3" cy="1287.1" r="11.9"/><circle cx="2119.2" cy="1240.2" r="11.9"/><circle cx="1943.8" cy="1231.1" r="11.9"/><circle cx="2029.7" cy="1220.1" r="11.9"/><circle cx="1401.3" cy="1274.2" r="11.9"/><circle cx="1753.8" cy="1237.3" r="11.9"/><circle cx="1762.0" cy="1243.6" r="11.9"/><circle cx="1282.8" cy="1292.7" r="11.9"/><circle cx="1331.2" cy="1291.1" r="11.9"/><circle cx="1484.2" cy="1273.6" r="11.9"/><circle cx="1582.2" cy="1251.3" r="11.9"/><circle cx="1343.0" cy="1285.9" r="11.9"/><circle cx="1214.7" cy="1295.2" r="11.9"/><circle cx="1385.3" cy="1289.7" r="11.9"/><circle cx="2002.4" cy="1257.4" r="11.9"/><circle cx="1315.5" cy="1282.2" r="11.9"/><circle cx="1639.8" cy="1276.5" r="11.9"/><circle cx="1478.0" cy="1263.0" r="11.9"/><circle cx="1725.4" cy="1225.9" r="11.9"/><circle cx="1871.2" cy="1260.5" r="11.9"/><circle cx="1780.6" cy="1245.2" r="11.9"/><circle cx="1990.0" cy="1241.7" r="11.9"/><circle cx="1334.5" cy="1270.0" r="11.9"/><circle cx="1964.0" cy="1245.3" r="11.9"/><circle cx="1647.1" cy="1268.4" r="11.9"/><circle cx="1767.0" cy="1202.3" r="11.9"/><circle cx="2026.1" cy="1263.4" r="11.9"/><circle cx="1446.6" cy="1263.0" r="11.9"/><circle cx="1425.4" cy="1254.9" r="11.9"/><circle cx="1957.8" cy="1264.2" r="11.9"/><circle cx="1754.4" cy="1246.5" r="11.9"/><circle cx="1390.6" cy="1272.2" r="11.9"/><circle cx="1335.8" cy="1295.1" r="11.9"/><circle cx="1755.7" cy="1250.0" r="11.9"/><circle cx="1966.4" cy="1266.4" r="11.9"/><circle cx="1693.6" cy="1265.4" r="11.9"/><circle cx="1294.8" cy="1282.3" r="11.9"/><circle cx="2018.6" cy="1262.2" r="11.9"/><circle cx="1810.7" cy="1220.3" r="11.9"/><circle cx="1296.3" cy="1279.5" r="11.9"/><circle cx="1983.4" cy="1243.4" r="11.9"/><circle cx="1445.7" cy="1261.4" r="11.9"/><circle cx="2067.3" cy="1215.5" r="11.9"/><circle cx="1416.6" cy="1242.4" r="11.9"/><circle cx="1286.6" cy="1280.2" r="11.9"/><circle cx="1623.7" cy="1249.5" r="11.9"/><circle cx="1392.8" cy="1245.9" r="11.9"/><circle cx="1858.5" cy="1249.1" r="11.9"/><circle cx="2024.6" cy="1259.0" r="11.9"/><circle cx="1259.7" cy="1288.7" r="11.9"/><circle cx="1658.0" cy="1240.4" r="11.9"/><circle cx="2017.3" cy="1229.4" r="11.9"/><circle cx="1509.3" cy="1275.4" r="11.9"/><circle cx="1666.5" cy="1257.3" r="11.9"/><circle cx="1630.5" cy="1268.2" r="11.9"/><circle cx="1893.6" cy="1270.2" r="11.9"/><circle cx="1625.9" cy="1258.9" r="11.9"/><circle cx="1472.2" cy="1239.7" r="11.9"/><circle cx="2094.1" cy="1211.3" r="11.9"/><circle cx="1655.2" cy="1265.0" r="11.9"/><circle cx="1662.9" cy="1247.6" r="11.9"/><circle cx="1292.2" cy="1286.8" r="11.9"/><circle cx="1361.1" cy="1249.3" r="11.9"/><circle cx="1714.3" cy="1245.0" r="11.9"/><circle cx="1491.0" cy="1251.8" r="11.9"/><circle cx="1449.1" cy="1262.8" r="11.9"/><circle cx="1766.2" cy="1214.3" r="11.9"/><circle cx="2048.6" cy="1242.0" r="11.9"/><circle cx="2047.3" cy="1238.8" r="11.9"/><circle cx="1783.4" cy="1225.2" r="11.9"/><circle cx="2012.5" cy="1232.0" r="11.9"/><circle cx="2045.4" cy="1258.8" r="11.9"/><circle cx="1551.0" cy="1270.0" r="11.9"/><circle cx="1415.0" cy="1251.3" r="11.9"/><circle cx="1286.0" cy="1253.4" r="11.9"/><circle cx="2014.2" cy="1245.0" r="11.9"/><circle cx="2078.5" cy="1225.2" r="11.9"/><circle cx="1361.8" cy="1280.1" r="11.9"/><circle cx="1734.6" cy="1254.3" r="11.9"/><circle cx="1448.3" cy="1261.6" r="11.9"/><circle cx="1669.1" cy="1272.3" r="11.9"/><circle cx="1458.4" cy="1245.3" r="11.9"/><circle cx="1419.3" cy="1281.9" r="11.9"/><circle cx="1222.2" cy="1289.7" r="11.9"/><circle cx="1460.4" cy="1261.1" r="11.9"/><circle cx="1620.6" cy="1276.5" r="11.9"/><circle cx="1505.5" cy="1262.7" r="11.9"/><circle cx="2067.2" cy="1236.8" r="11.9"/><circle cx="2113.0" cy="1250.2" r="11.9"/><circle cx="1254.2" cy="1284.3" r="11.9"/><circle cx="1440.7" cy="1289.4" r="11.9"/><circle cx="1819.1" cy="1254.2" r="11.9"/><circle cx="2068.2" cy="1242.2" r="11.9"/><circle cx="1467.9" cy="1262.6" r="11.9"/><circle cx="1599.3" cy="1248.0" r="11.9"/><circle cx="1414.0" cy="1252.3" r="11.9"/><circle cx="2042.1" cy="1229.1" r="11.9"/><circle cx="2074.3" cy="1211.2" r="11.9"/><circle cx="1615.4" cy="1280.3" r="11.9"/><circle cx="1708.4" cy="1269.5" r="11.9"/><circle cx="1231.7" cy="1277.6" r="11.9"/><circle cx="1339.0" cy="1281.6" r="11.9"/><circle cx="1808.9" cy="1232.0" r="11.9"/><circle cx="1883.3" cy="1255.8" r="11.9"/><circle cx="1736.5" cy="1262.2" r="11.9"/><circle cx="1254.0" cy="1262.5" r="11.9"/><circle cx="2022.3" cy="1229.9" r="11.9"/><circle cx="1816.6" cy="1232.0" r="11.9"/><circle cx="1387.7" cy="1244.5" r="11.9"/><circle cx="1919.2" cy="1257.6" r="11.9"/><circle cx="1581.7" cy="1268.8" r="11.9"/><circle cx="1772.6" cy="1264.8" r="11.9"/><circle cx="1974.7" cy="1264.4" r="11.9"/><circle cx="1987.3" cy="1235.1" r="11.9"/><circle cx="1370.0" cy="1265.9" r="11.9"/><circle cx="1988.7" cy="1264.8" r="11.9"/><circle cx="1736.5" cy="1220.6" r="11.9"/><circle cx="1205.5" cy="1308.9" r="11.9"/><circle cx="1813.2" cy="1259.6" r="11.9"/><circle cx="1317.6" cy="1257.6" r="11.9"/><circle cx="1789.4" cy="1205.0" r="11.9"/><circle cx="1298.6" cy="1289.4" r="11.9"/><circle cx="1840.2" cy="1268.2" r="11.9"/><circle cx="1821.8" cy="1229.3" r="11.9"/><circle cx="1211.0" cy="1306.4" r="11.9"/><circle cx="1472.3" cy="1281.6" r="11.9"/><circle cx="1780.4" cy="1218.8" r="11.9"/><circle cx="1526.9" cy="1283.7" r="11.9"/><circle cx="2037.4" cy="1237.9" r="11.9"/><circle cx="1614.7" cy="1250.2" r="11.9"/><circle cx="2015.5" cy="1264.0" r="11.9"/><circle cx="1824.7" cy="1234.1" r="11.9"/><circle cx="1617.3" cy="1272.5" r="11.9"/><circle cx="1544.4" cy="1265.2" r="11.9"/><circle cx="1351.0" cy="1291.2" r="11.9"/><circle cx="1396.5" cy="1265.3" r="11.9"/><circle cx="1807.7" cy="1279.2" r="11.9"/><circle cx="1278.0" cy="1304.8" r="11.9"/><circle cx="1478.4" cy="1261.7" r="11.9"/><circle cx="2058.1" cy="1248.1" r="11.9"/><circle cx="1979.9" cy="1264.3" r="11.9"/><circle cx="1509.9" cy="1240.9" r="11.9"/><circle cx="1805.8" cy="1254.4" r="11.9"/><circle cx="1241.0" cy="1301.9" r="11.9"/><circle cx="1337.8" cy="1298.2" r="11.9"/><circle cx="1376.1" cy="1272.1" r="11.9"/><circle cx="1440.9" cy="1254.2" r="11.9"/><circle cx="1361.5" cy="1269.2" r="11.9"/><circle cx="1536.8" cy="1265.3" r="11.9"/><circle cx="1419.8" cy="1267.1" r="11.9"/><circle cx="1821.4" cy="1279.1" r="11.9"/><circle cx="1507.5" cy="1258.3" r="11.9"/><circle cx="1606.5" cy="1279.8" r="11.9"/><circle cx="1856.5" cy="1246.1" r="11.9"/><circle cx="1481.7" cy="1290.3" r="11.9"/><circle cx="1358.0" cy="1276.8" r="11.9"/><circle cx="1314.7" cy="1278.9" r="11.9"/><circle cx="1924.6" cy="1235.2" r="11.9"/><circle cx="1754.5" cy="1256.3" r="11.9"/><circle cx="1823.0" cy="1241.1" r="11.9"/><circle cx="1426.7" cy="1271.0" r="11.9"/><circle cx="2022.5" cy="1257.5" r="11.9"/><circle cx="1565.7" cy="1270.7" r="11.9"/><circle cx="1369.3" cy="1288.4" r="11.9"/><circle cx="2050.2" cy="1215.6" r="11.9"/><circle cx="1297.9" cy="1299.5" r="11.9"/><circle cx="1398.8" cy="1241.6" r="11.9"/><circle cx="1791.4" cy="1276.0" r="11.9"/><circle cx="1658.6" cy="1244.5" r="11.9"/><circle cx="1671.6" cy="1279.8" r="11.9"/><circle cx="1267.9" cy="1272.4" r="11.9"/><circle cx="1919.5" cy="1234.4" r="11.9"/><circle cx="1378.6" cy="1283.5" r="11.9"/><circle cx="1885.3" cy="1259.5" r="11.9"/><circle cx="1400.3" cy="1283.3" r="11.9"/><circle cx="1559.3" cy="1288.0" r="11.9"/><circle cx="1461.1" cy="1286.4" r="11.9"/><circle cx="1398.6" cy="1267.7" r="11.9"/><circle cx="1821.9" cy="1252.8" r="11.9"/><circle cx="1785.2" cy="1216.4" r="11.9"/><circle cx="1704.6" cy="1247.3" r="11.9"/><circle cx="2036.8" cy="1231.4" r="11.9"/><circle cx="2032.6" cy="1243.0" r="11.9"/><circle cx="2061.3" cy="1202.1" r="11.9"/><circle cx="2108.4" cy="1231.9" r="11.9"/><circle cx="1506.7" cy="1259.7" r="11.9"/><circle cx="1468.9" cy="1268.7" r="11.9"/><circle cx="1945.3" cy="1263.0" r="11.9"/><circle cx="1355.7" cy="1276.2" r="11.9"/><circle cx="1830.7" cy="1245.8" r="11.9"/><circle cx="1276.2" cy="1270.1" r="11.9"/><circle cx="1320.7" cy="1253.0" r="11.9"/><circle cx="1389.6" cy="1278.3" r="11.9"/><circle cx="1318.2" cy="1272.0" r="11.9"/><circle cx="1553.8" cy="1265.6" r="11.9"/><circle cx="2022.0" cy="1233.1" r="11.9"/><circle cx="1384.3" cy="1254.5" r="11.9"/><circle cx="1577.0" cy="1265.7" r="11.9"/><circle cx="1527.7" cy="1259.8" r="11.9"/><circle cx="1685.9" cy="1281.0" r="11.9"/><circle cx="1849.2" cy="1249.8" r="11.9"/><circle cx="1685.9" cy="1244.9" r="11.9"/><circle cx="1448.6" cy="1264.4" r="11.9"/><circle cx="1239.3" cy="1256.8" r="11.9"/><circle cx="1432.7" cy="1249.8" r="11.9"/><circle cx="1686.8" cy="1273.4" r="11.9"/><circle cx="1204.0" cy="1267.8" r="11.9"/><circle cx="1583.1" cy="1272.4" r="11.9"/><circle cx="1348.3" cy="1277.0" r="11.9"/><circle cx="1224.1" cy="1258.3" r="11.9"/><circle cx="2107.6" cy="1242.2" r="11.9"/><circle cx="1869.9" cy="1262.3" r="11.9"/><circle cx="1484.2" cy="1272.4" r="11.9"/><circle cx="1582.5" cy="1279.5" r="11.9"/><circle cx="1403.7" cy="1293.4" r="11.9"/><circle cx="2066.1" cy="1209.7" r="11.9"/><circle cx="1954.0" cy="1241.0" r="11.9"/><circle cx="1263.9" cy="1259.3" r="11.9"/><circle cx="1511.7" cy="1277.3" r="11.9"/><circle cx="1665.9" cy="1245.5" r="11.9"/><circle cx="2043.8" cy="1257.7" r="11.9"/><circle cx="1253.2" cy="1306.8" r="11.9"/><circle cx="1576.4" cy="1245.2" r="11.9"/><circle cx="1717.8" cy="1250.5" r="11.9"/><circle cx="385.6" cy="995.0" r="11.9"/><circle cx="413.0" cy="1000.0" r="11.9"/><circle cx="440.0" cy="1000.0" r="11.9"/><circle cx="462.4" cy="990.0" r="11.9"/><circle cx="485.0" cy="993.0" r="11.9"/><circle cx="507.0" cy="997.0" r="11.9"/><circle cx="529.6" cy="993.0" r="11.9"/><circle cx="507.0" cy="1003.0" r="11.9"/><circle cx="508.0" cy="1017.0" r="11.9"/><circle cx="567.0" cy="995.0" r="11.9"/><circle cx="584.0" cy="991.0" r="11.9"/><circle cx="600.0" cy="998.0" r="11.9"/><circle cx="617.0" cy="972.0" r="11.9"/><circle cx="620.0" cy="1010.0" r="11.9"/><circle cx="640.0" cy="980.0" r="11.9"/><circle cx="642.0" cy="998.0" r="11.9"/><circle cx="322.0" cy="1009.0" r="11.9"/><circle cx="254.4" cy="1029.0" r="11.9"/><circle cx="246.0" cy="1047.0" r="11.9"/><circle cx="264.0" cy="1050.0" r="11.9"/><circle cx="280.0" cy="1048.0" r="11.9"/><circle cx="306.0" cy="1036.0" r="11.9"/><circle cx="310.0" cy="1044.0" r="11.9"/><circle cx="314.0" cy="1052.0" r="11.9"/><circle cx="320.0" cy="1058.0" r="11.9"/><circle cx="353.0" cy="1034.0" r="11.9"/><circle cx="374.0" cy="1020.0" r="11.9"/><circle cx="394.0" cy="1028.0" r="11.9"/><circle cx="344.0" cy="1050.0" r="11.9"/><circle cx="360.0" cy="1050.0" r="11.9"/><circle cx="370.0" cy="1048.0" r="11.9"/><circle cx="382.0" cy="1046.0" r="11.9"/><circle cx="402.0" cy="1046.0" r="11.9"/><circle cx="408.0" cy="1053.0" r="11.9"/><circle cx="426.0" cy="1050.0" r="11.9"/><circle cx="436.0" cy="1056.0" r="11.9"/><circle cx="462.0" cy="1044.0" r="11.9"/><circle cx="484.0" cy="1040.0" r="11.9"/><circle cx="498.0" cy="1036.0" r="11.9"/><circle cx="506.0" cy="1036.0" r="11.9"/><circle cx="510.0" cy="1050.0" r="11.9"/><circle cx="528.0" cy="1047.0" r="11.9"/><circle cx="540.0" cy="1058.0" r="11.9"/><circle cx="564.0" cy="1044.0" r="11.9"/><circle cx="583.0" cy="1031.0" r="11.9"/><circle cx="596.0" cy="1038.0" r="11.9"/><circle cx="602.0" cy="1048.0" r="11.9"/><circle cx="578.0" cy="1052.0" r="11.9"/><circle cx="620.0" cy="1042.0" r="11.9"/><circle cx="638.0" cy="1030.0" r="11.9"/><circle cx="640.0" cy="1050.0" r="11.9"/><circle cx="296.0" cy="1094.0" r="11.9"/><circle cx="318.0" cy="1092.0" r="11.9"/><circle cx="334.0" cy="1094.0" r="11.9"/><circle cx="351.0" cy="1096.0" r="11.9"/><circle cx="283.0" cy="1113.0" r="11.9"/><circle cx="384.0" cy="1086.0" r="11.9"/><circle cx="416.0" cy="1078.0" r="11.9"/><circle cx="430.0" cy="1088.0" r="11.9"/><circle cx="450.0" cy="1084.0" r="11.9"/><circle cx="466.0" cy="1088.0" r="11.9"/><circle cx="482.0" cy="1094.0" r="11.9"/><circle cx="514.0" cy="1088.0" r="11.9"/><circle cx="544.0" cy="1082.0" r="11.9"/><circle cx="594.0" cy="1092.0" r="11.9"/><circle cx="602.0" cy="1086.0" r="11.9"/><circle cx="624.0" cy="1090.0" r="11.9"/><circle cx="642.0" cy="1098.0" r="11.9"/><circle cx="304.0" cy="1152.0" r="11.9"/><circle cx="316.0" cy="1137.0" r="11.9"/><circle cx="326.0" cy="1156.0" r="11.9"/><circle cx="336.0" cy="1148.0" r="11.9"/><circle cx="344.0" cy="1158.0" r="11.9"/><circle cx="356.0" cy="1156.0" r="11.9"/><circle cx="366.0" cy="1136.0" r="11.9"/><circle cx="376.0" cy="1146.0" r="11.9"/><circle cx="387.0" cy="1131.0" r="11.9"/><circle cx="406.0" cy="1152.0" r="11.9"/><circle cx="396.0" cy="1164.0" r="11.9"/><circle cx="416.0" cy="1172.0" r="11.9"/><circle cx="426.0" cy="1176.0" r="11.9"/><circle cx="437.0" cy="1174.0" r="11.9"/><circle cx="448.0" cy="1186.0" r="11.9"/><circle cx="457.0" cy="1148.0" r="11.9"/><circle cx="466.0" cy="1154.0" r="11.9"/><circle cx="477.0" cy="1161.0" r="11.9"/><circle cx="486.0" cy="1187.0" r="11.9"/><circle cx="496.0" cy="1180.0" r="11.9"/><circle cx="508.0" cy="1174.0" r="11.9"/><circle cx="519.0" cy="1153.0" r="11.9"/><circle cx="530.0" cy="1170.0" r="11.9"/><circle cx="541.0" cy="1162.0" r="11.9"/><circle cx="551.0" cy="1187.0" r="11.9"/><circle cx="564.0" cy="1178.0" r="11.9"/><circle cx="576.0" cy="1166.0" r="11.9"/><circle cx="589.0" cy="1167.0" r="11.9"/><circle cx="602.0" cy="1173.0" r="11.9"/><circle cx="616.0" cy="1163.0" r="11.9"/><circle cx="628.0" cy="1180.0" r="11.9"/><circle cx="638.0" cy="1182.0" r="11.9"/><circle cx="696.0" cy="1008.0" r="11.9"/><circle cx="684.0" cy="1006.0" r="11.9"/><circle cx="674.0" cy="1010.0" r="11.9"/><circle cx="668.0" cy="1014.0" r="11.9"/><circle cx="701.0" cy="979.0" r="11.9"/><circle cx="714.0" cy="980.0" r="11.9"/><circle cx="721.0" cy="989.0" r="11.9"/><circle cx="658.0" cy="1037.0" r="11.9"/><circle cx="700.0" cy="1039.0" r="11.9"/><circle cx="720.0" cy="1041.0" r="11.9"/><circle cx="732.0" cy="1056.0" r="11.9"/><circle cx="745.0" cy="1017.0" r="11.9"/><circle cx="738.0" cy="1028.0" r="11.9"/><circle cx="772.0" cy="1010.0" r="11.9"/><circle cx="776.0" cy="962.0" r="11.9"/><circle cx="795.0" cy="957.0" r="11.9"/><circle cx="802.0" cy="970.0" r="11.9"/><circle cx="812.0" cy="973.0" r="11.9"/><circle cx="827.0" cy="966.0" r="11.9"/><circle cx="780.0" cy="982.0" r="11.9"/><circle cx="792.0" cy="988.0" r="11.9"/><circle cx="818.0" cy="990.0" r="11.9"/><circle cx="780.0" cy="996.0" r="11.9"/><circle cx="830.0" cy="1004.0" r="11.9"/><circle cx="835.0" cy="1014.0" r="11.9"/><circle cx="792.0" cy="996.0" r="11.9"/><circle cx="810.0" cy="1045.0" r="11.9"/><circle cx="799.0" cy="1058.0" r="11.9"/><circle cx="762.0" cy="1052.0" r="11.9"/><circle cx="771.0" cy="1062.0" r="11.9"/><circle cx="843.0" cy="1075.0" r="11.9"/><circle cx="808.0" cy="1074.0" r="11.9"/><circle cx="818.0" cy="1085.0" r="11.9"/><circle cx="822.0" cy="1100.0" r="11.9"/><circle cx="846.0" cy="1100.0" r="11.9"/><circle cx="865.0" cy="1107.0" r="11.9"/><circle cx="872.0" cy="1118.0" r="11.9"/><circle cx="879.0" cy="1125.0" r="11.9"/><circle cx="644.0" cy="1097.0" r="11.9"/><circle cx="665.0" cy="1107.0" r="11.9"/><circle cx="687.0" cy="1104.0" r="11.9"/><circle cx="723.0" cy="1100.0" r="11.9"/><circle cx="753.0" cy="1111.0" r="11.9"/><circle cx="776.0" cy="1120.0" r="11.9"/><circle cx="709.0" cy="1127.0" r="11.9"/><circle cx="688.0" cy="1145.0" r="11.9"/><circle cx="732.0" cy="1147.0" r="11.9"/><circle cx="754.0" cy="1164.0" r="11.9"/><circle cx="709.0" cy="1171.0" r="11.9"/><circle cx="776.0" cy="1175.0" r="11.9"/><circle cx="787.0" cy="1176.0" r="11.9"/><circle cx="772.0" cy="1138.0" r="11.9"/><circle cx="792.0" cy="1138.0" r="11.9"/><circle cx="807.0" cy="1135.0" r="11.9"/><circle cx="796.0" cy="1147.0" r="11.9"/><circle cx="825.0" cy="1151.0" r="11.9"/><circle cx="825.0" cy="1177.0" r="11.9"/><circle cx="846.0" cy="1164.0" r="11.9"/><circle cx="800.0" cy="1185.0" r="11.9"/><circle cx="778.0" cy="1186.0" r="11.9"/><circle cx="824.0" cy="1196.0" r="11.9"/><circle cx="860.0" cy="1179.0" r="11.9"/><circle cx="869.0" cy="1187.0" r="11.9"/><circle cx="885.0" cy="1173.0" r="11.9"/><circle cx="648.0" cy="1184.0" r="11.9"/><circle cx="658.0" cy="1176.0" r="11.9"/><circle cx="668.0" cy="1174.0" r="11.9"/><circle cx="678.0" cy="1189.0" r="11.9"/><circle cx="698.0" cy="1199.0" r="11.9"/><circle cx="723.0" cy="1200.0" r="11.9"/><circle cx="740.0" cy="1216.0" r="11.9"/><circle cx="761.0" cy="1208.0" r="11.9"/><circle cx="708.0" cy="1172.0" r="11.9"/><circle cx="723.0" cy="1199.0" r="11.9"/><circle cx="742.0" cy="1217.0" r="11.9"/><circle cx="762.0" cy="1207.0" r="11.9"/><circle cx="777.0" cy="1175.0" r="11.9"/><circle cx="780.0" cy="1184.0" r="11.9"/><circle cx="798.0" cy="1185.0" r="11.9"/><circle cx="824.0" cy="1178.0" r="11.9"/><circle cx="824.0" cy="1196.0" r="11.9"/><circle cx="820.0" cy="1218.0" r="11.9"/><circle cx="821.0" cy="1233.0" r="11.9"/><circle cx="820.0" cy="1251.0" r="11.9"/><circle cx="812.0" cy="1210.0" r="11.9"/><circle cx="860.0" cy="1176.0" r="11.9"/><circle cx="868.0" cy="1186.0" r="11.9"/><circle cx="885.0" cy="1173.0" r="11.9"/><circle cx="852.0" cy="1202.0" r="11.9"/><circle cx="870.0" cy="1211.0" r="11.9"/><circle cx="857.0" cy="1225.0" r="11.9"/><circle cx="880.0" cy="1238.0" r="11.9"/><circle cx="892.0" cy="1244.0" r="11.9"/><circle cx="902.0" cy="1200.0" r="11.9"/><circle cx="916.0" cy="1207.0" r="11.9"/><circle cx="920.0" cy="1186.0" r="11.9"/><circle cx="927.0" cy="1228.0" r="11.9"/><circle cx="938.0" cy="1252.0" r="11.9"/><circle cx="920.0" cy="1242.0" r="11.9"/><circle cx="961.0" cy="1243.0" r="11.9"/><circle cx="950.0" cy="1224.0" r="11.9"/><circle cx="972.0" cy="1186.0" r="11.9"/><circle cx="995.0" cy="1198.0" r="11.9"/><circle cx="983.0" cy="1214.0" r="11.9"/><circle cx="990.0" cy="1250.0" r="11.9"/><circle cx="1002.0" cy="1236.0" r="11.9"/><circle cx="1012.0" cy="1238.0" r="11.9"/><circle cx="1038.0" cy="1188.0" r="11.9"/><circle cx="1020.0" cy="1194.0" r="11.9"/><circle cx="1012.0" cy="1206.0" r="11.9"/><circle cx="990.0" cy="1288.0" r="11.9"/><circle cx="991.0" cy="1299.0" r="11.9"/><circle cx="1039.6" cy="946.0" r="11.9"/><circle cx="1014.6" cy="1025.0" r="11.9"/><circle cx="1078.0" cy="980.0" r="11.9"/><circle cx="1082.0" cy="988.0" r="11.9"/><circle cx="1084.0" cy="1000.0" r="11.9"/><circle cx="1066.0" cy="999.0" r="11.9"/><circle cx="1052.0" cy="1002.0" r="11.9"/><circle cx="1055.0" cy="1013.0" r="11.9"/><circle cx="1109.0" cy="1014.0" r="11.9"/><circle cx="1088.0" cy="1026.0" r="11.9"/><circle cx="1089.0" cy="1046.0" r="11.9"/><circle cx="1118.0" cy="1050.4" r="11.9"/><circle cx="1095.0" cy="1059.0" r="11.9"/><circle cx="1088.0" cy="1068.0" r="11.9"/><circle cx="1053.0" cy="1048.0" r="11.9"/><circle cx="1033.0" cy="1053.0" r="11.9"/><circle cx="1044.0" cy="1073.0" r="11.9"/><circle cx="1064.0" cy="1091.0" r="11.9"/><circle cx="983.0" cy="1058.0" r="11.9"/><circle cx="993.0" cy="1064.0" r="11.9"/><circle cx="997.0" cy="1079.0" r="11.9"/><circle cx="1010.0" cy="1086.0" r="11.9"/><circle cx="970.0" cy="1087.0" r="11.9"/><circle cx="980.0" cy="1088.0" r="11.9"/><circle cx="982.0" cy="1109.0" r="11.9"/><circle cx="958.0" cy="1110.0" r="11.9"/><circle cx="1032.0" cy="1106.0" r="11.9"/><circle cx="1034.0" cy="1130.0" r="11.9"/><circle cx="1007.0" cy="1138.0" r="11.9"/><circle cx="986.0" cy="1130.0" r="11.9"/><circle cx="929.0" cy="1121.0" r="11.9"/><circle cx="913.0" cy="1137.0" r="11.9"/><circle cx="934.0" cy="1138.0" r="11.9"/><circle cx="950.0" cy="1146.0" r="11.9"/><circle cx="1038.0" cy="1188.0" r="11.9"/><circle cx="1020.0" cy="1194.0" r="11.9"/><circle cx="995.0" cy="1198.0" r="11.9"/><circle cx="973.0" cy="1186.0" r="11.9"/><circle cx="948.0" cy="1172.0" r="11.9"/><circle cx="920.0" cy="1186.0" r="11.9"/><circle cx="915.0" cy="1208.0" r="11.9"/><circle cx="928.0" cy="1228.0" r="11.9"/><circle cx="984.0" cy="1216.0" r="11.9"/><circle cx="1052.0" cy="748.0" r="11.9"/><circle cx="1046.0" cy="793.0" r="11.9"/><circle cx="1027.6" cy="819.4" r="11.9"/><circle cx="1021.6" cy="897.4" r="11.9"/><circle cx="1039.6" cy="945.0" r="11.9"/><circle cx="1070.0" cy="1115.0" r="11.9"/><circle cx="1110.0" cy="1106.0" r="11.9"/><circle cx="1131.0" cy="1145.0" r="11.9"/><circle cx="1102.0" cy="1156.0" r="11.9"/><circle cx="1141.0" cy="1162.0" r="11.9"/><circle cx="1073.0" cy="1153.0" r="11.9"/><circle cx="1066.0" cy="1169.0" r="11.9"/><circle cx="1085.0" cy="1178.0" r="11.9"/><circle cx="1106.0" cy="1191.0" r="11.9"/><circle cx="1138.0" cy="1184.0" r="11.9"/><circle cx="1143.0" cy="1198.0" r="11.9"/><circle cx="1165.0" cy="1205.0" r="11.9"/><circle cx="1085.0" cy="1202.0" r="11.9"/><circle cx="1112.0" cy="1218.0" r="11.9"/><circle cx="1130.0" cy="1230.0" r="11.9"/><circle cx="1140.0" cy="1240.0" r="11.9"/><circle cx="1167.0" cy="1235.0" r="11.9"/><circle cx="1158.0" cy="1256.0" r="11.9"/><circle cx="1082.0" cy="1254.0" r="11.9"/><circle cx="1100.0" cy="1252.0" r="11.9"/><circle cx="1116.0" cy="1253.0" r="11.9"/><circle cx="1130.0" cy="1256.0" r="11.9"/><circle cx="1072.0" cy="1280.0" r="11.9"/><circle cx="1068.0" cy="1306.0" r="11.9"/><circle cx="1082.0" cy="1300.0" r="11.9"/><circle cx="1106.0" cy="1312.0" r="11.9"/><circle cx="1124.0" cy="1302.0" r="11.9"/><circle cx="1142.0" cy="1294.0" r="11.9"/><circle cx="1150.0" cy="1308.0" r="11.9"/><circle cx="1162.0" cy="1298.0" r="11.9"/><circle cx="1176.0" cy="1326.0" r="11.9"/><circle cx="1196.0" cy="1322.0" r="11.9"/><circle cx="1178.0" cy="1292.0" r="11.9"/><circle cx="1198.0" cy="1268.0" r="11.9"/><circle cx="1174.0" cy="1270.0" r="11.9"/><circle cx="1200.0" cy="1256.0" r="11.9"/><circle cx="1188.0" cy="1254.0" r="11.9"/><circle cx="1256.0" cy="1212.0" r="11.9"/><circle cx="1271.0" cy="1236.0" r="11.9"/><circle cx="1307.0" cy="1226.0" r="11.9"/><circle cx="1308.0" cy="1233.0" r="11.9"/><circle cx="1358.0" cy="1211.0" r="11.9"/><circle cx="1367.0" cy="1231.0" r="11.9"/><circle cx="1376.0" cy="1250.0" r="11.9"/><circle cx="1395.0" cy="1241.0" r="11.9"/><circle cx="1424.0" cy="1223.0" r="11.9"/><circle cx="1435.0" cy="1229.0" r="11.9"/><circle cx="1467.0" cy="1219.0" r="11.9"/><circle cx="1468.0" cy="1242.0" r="11.9"/><circle cx="1342.0" cy="1247.0" r="11.9"/><circle cx="1292.0" cy="1252.0" r="11.9"/><circle cx="1222.0" cy="1260.0" r="11.9"/><circle cx="1236.0" cy="1276.0" r="11.9"/><circle cx="1258.0" cy="1262.0" r="11.9"/><circle cx="1274.0" cy="1278.0" r="11.9"/><circle cx="1318.0" cy="1268.0" r="11.9"/><circle cx="1339.0" cy="1272.0" r="11.9"/><circle cx="1418.0" cy="1249.0" r="11.9"/><circle cx="1436.0" cy="1262.0" r="11.9"/><circle cx="1394.0" cy="1278.0" r="11.9"/><circle cx="1412.0" cy="1284.0" r="11.9"/><circle cx="1370.0" cy="1276.0" r="11.9"/><circle cx="1297.0" cy="1288.0" r="11.9"/><circle cx="1262.0" cy="1290.0" r="11.9"/><circle cx="1218.0" cy="1292.0" r="11.9"/><circle cx="1232.0" cy="1308.0" r="11.9"/><circle cx="1260.0" cy="1313.0" r="11.9"/><circle cx="1288.0" cy="1304.0" r="11.9"/><circle cx="1310.0" cy="1301.0" r="11.9"/><circle cx="1334.0" cy="1300.0" r="11.9"/><circle cx="1352.0" cy="1302.0" r="11.9"/><circle cx="1378.0" cy="1296.0" r="11.9"/><circle cx="1402.0" cy="1321.0" r="11.9"/><circle cx="1428.0" cy="1325.0" r="11.9"/><circle cx="1438.0" cy="1310.0" r="11.9"/><circle cx="1460.0" cy="1278.0" r="11.9"/><circle cx="1450.0" cy="1288.0" r="11.9"/><circle cx="1470.0" cy="1290.0" r="11.9"/><circle cx="1486.0" cy="1202.0" r="11.9"/><circle cx="1486.0" cy="1220.0" r="11.9"/><circle cx="1502.0" cy="1232.0" r="11.9"/><circle cx="1500.0" cy="1246.0" r="11.9"/><circle cx="1528.0" cy="1207.0" r="11.9"/><circle cx="1550.0" cy="1193.0" r="11.9"/><circle cx="1545.0" cy="1233.0" r="11.9"/><circle cx="1530.0" cy="1240.0" r="11.9"/><circle cx="1570.0" cy="1244.0" r="11.9"/><circle cx="1565.0" cy="1252.0" r="11.9"/><circle cx="1595.0" cy="1254.0" r="11.9"/><circle cx="1615.0" cy="1228.0" r="11.9"/><circle cx="1624.0" cy="1242.0" r="11.9"/><circle cx="1626.0" cy="1252.0" r="11.9"/><circle cx="1648.0" cy="1244.0" r="11.9"/><circle cx="1658.0" cy="1254.0" r="11.9"/><circle cx="1673.0" cy="1205.0" r="11.9"/><circle cx="1695.0" cy="1206.0" r="11.9"/><circle cx="1714.0" cy="1223.0" r="11.9"/><circle cx="1690.0" cy="1236.0" r="11.9"/><circle cx="1740.0" cy="1191.0" r="11.9"/><circle cx="1762.0" cy="1144.0" r="11.9"/><circle cx="1807.0" cy="1137.0" r="11.9"/><circle cx="1766.0" cy="1179.0" r="11.9"/><circle cx="1770.0" cy="1172.0" r="11.9"/><circle cx="1791.0" cy="1191.0" r="11.9"/><circle cx="1786.0" cy="1178.0" r="11.9"/><circle cx="1811.0" cy="1200.0" r="11.9"/><circle cx="1809.0" cy="1215.0" r="11.9"/><circle cx="1760.0" cy="1232.0" r="11.9"/><circle cx="1792.0" cy="1227.0" r="11.9"/><circle cx="1752.0" cy="1216.0" r="11.9"/><circle cx="1812.0" cy="1238.0" r="11.9"/><circle cx="1478.0" cy="1291.0" r="11.9"/><circle cx="1520.0" cy="1276.0" r="11.9"/><circle cx="1532.0" cy="1266.0" r="11.9"/><circle cx="1514.0" cy="1290.0" r="11.9"/><circle cx="1540.0" cy="1286.0" r="11.9"/><circle cx="1564.0" cy="1275.0" r="11.9"/><circle cx="1576.0" cy="1288.0" r="11.9"/><circle cx="1593.0" cy="1283.0" r="11.9"/><circle cx="1593.0" cy="1297.0" r="11.9"/><circle cx="1618.0" cy="1281.0" r="11.9"/><circle cx="1643.0" cy="1288.0" r="11.9"/><circle cx="1659.0" cy="1309.0" r="11.9"/><circle cx="1666.0" cy="1278.0" r="11.9"/><circle cx="1677.0" cy="1291.0" r="11.9"/><circle cx="1654.0" cy="1274.0" r="11.9"/><circle cx="1705.0" cy="1268.0" r="11.9"/><circle cx="1688.0" cy="1260.0" r="11.9"/><circle cx="1737.0" cy="1275.0" r="11.9"/><circle cx="1736.0" cy="1261.0" r="11.9"/><circle cx="1736.0" cy="1306.0" r="11.9"/><circle cx="1788.0" cy="1264.0" r="11.9"/><circle cx="1790.0" cy="1280.0" r="11.9"/><circle cx="1794.0" cy="1298.0" r="11.9"/><circle cx="1805.0" cy="1311.0" r="11.9"/><circle cx="1816.0" cy="1265.0" r="11.9"/><circle cx="1800.0" cy="1270.0" r="11.9"/><circle cx="1820.0" cy="1278.0" r="11.9"/><circle cx="1841.0" cy="1309.0" r="11.9"/><circle cx="1858.0" cy="1289.0" r="11.9"/><circle cx="1870.0" cy="1275.0" r="11.9"/><circle cx="1844.0" cy="1255.0" r="11.9"/><circle cx="1854.0" cy="1240.0" r="11.9"/><circle cx="1868.0" cy="1246.0" r="11.9"/><circle cx="1886.0" cy="1239.0" r="11.9"/><circle cx="1895.0" cy="1259.0" r="11.9"/><circle cx="1897.0" cy="1268.0" r="11.9"/><circle cx="1906.0" cy="1244.0" r="11.9"/><circle cx="1914.0" cy="1258.0" r="11.9"/><circle cx="1922.0" cy="1222.0" r="11.9"/><circle cx="1930.0" cy="1228.0" r="11.9"/><circle cx="1950.0" cy="1220.0" r="11.9"/><circle cx="1960.0" cy="1218.0" r="11.9"/><circle cx="1946.0" cy="1248.0" r="11.9"/><circle cx="1928.0" cy="1256.0" r="11.9"/><circle cx="1948.0" cy="1273.0" r="11.9"/><circle cx="1972.0" cy="1255.0" r="11.9"/><circle cx="1964.0" cy="1230.0" r="11.9"/><circle cx="1982.0" cy="1209.0" r="11.9"/><circle cx="1980.0" cy="1216.0" r="11.9"/><circle cx="1985.0" cy="1276.0" r="11.9"/><circle cx="1992.0" cy="1264.0" r="11.9"/><circle cx="2008.0" cy="1250.0" r="11.9"/><circle cx="2006.0" cy="1234.0" r="11.9"/><circle cx="2020.0" cy="1280.0" r="11.9"/><circle cx="2028.0" cy="1266.0" r="11.9"/><circle cx="2036.0" cy="1258.0" r="11.9"/><circle cx="2051.0" cy="1263.0" r="11.9"/><circle cx="2036.0" cy="1220.0" r="11.9"/><circle cx="2046.0" cy="1230.0" r="11.9"/><circle cx="2054.0" cy="1184.0" r="11.9"/><circle cx="2070.0" cy="1182.0" r="11.9"/><circle cx="2060.0" cy="1194.0" r="11.9"/><circle cx="2064.0" cy="1206.0" r="11.9"/><circle cx="2094.0" cy="1206.0" r="11.9"/><circle cx="2113.0" cy="1208.0" r="11.9"/><circle cx="2079.0" cy="1265.0" r="11.9"/><circle cx="2070.0" cy="1254.0" r="11.9"/><circle cx="2062.0" cy="1244.0" r="11.9"/><circle cx="2084.0" cy="1244.0" r="11.9"/><circle cx="2100.0" cy="1236.0" r="11.9"/><circle cx="2110.0" cy="1244.0" r="11.9"/><circle cx="2092.0" cy="1224.0" r="11.9"/><circle cx="2118.0" cy="1238.0" r="11.9"/><circle cx="249.2" cy="1062.9" r="11.9"/><circle cx="251.2" cy="1059.4" r="11.9"/><circle cx="250.7" cy="1069.0" r="11.9"/><circle cx="258.9" cy="1072.2" r="11.9"/><circle cx="254.7" cy="1061.8" r="11.9"/><circle cx="250.0" cy="1073.9" r="11.9"/><circle cx="259.0" cy="1067.8" r="11.9"/><circle cx="258.4" cy="1056.1" r="11.9"/><circle cx="256.4" cy="1072.7" r="11.9"/><circle cx="246.0" cy="1066.9" r="11.9"/><circle cx="250.7" cy="1065.7" r="11.9"/><circle cx="247.5" cy="1067.3" r="11.9"/><circle cx="248.9" cy="1064.0" r="11.9"/><circle cx="257.4" cy="1070.4" r="11.9"/><circle cx="254.2" cy="1054.7" r="11.9"/><circle cx="254.5" cy="1065.5" r="11.9"/><circle cx="247.1" cy="1064.9" r="11.9"/><circle cx="249.8" cy="1069.5" r="11.9"/><circle cx="252.9" cy="1065.0" r="11.9"/><circle cx="248.4" cy="1062.8" r="11.9"/><circle cx="249.1" cy="1065.3" r="11.9"/><circle cx="247.2" cy="1057.6" r="11.9"/><circle cx="259.3" cy="1068.9" r="11.9"/><circle cx="253.5" cy="1071.7" r="11.9"/><circle cx="259.0" cy="1060.1" r="11.9"/><circle cx="259.8" cy="1073.8" r="11.9"/><circle cx="247.7" cy="1070.7" r="11.9"/><circle cx="246.5" cy="1073.5" r="11.9"/><circle cx="254.2" cy="1059.3" r="11.9"/><circle cx="249.7" cy="1054.2" r="11.9"/><circle cx="255.8" cy="1070.1" r="11.9"/><circle cx="255.0" cy="1061.7" r="11.9"/><circle cx="255.2" cy="1064.0" r="11.9"/><circle cx="251.7" cy="1062.0" r="11.9"/><circle cx="250.8" cy="1067.6" r="11.9"/><circle cx="254.8" cy="1061.1" r="11.9"/><circle cx="253.6" cy="1064.1" r="11.9"/><circle cx="254.5" cy="1055.1" r="11.9"/><circle cx="257.5" cy="1059.7" r="11.9"/><circle cx="254.1" cy="1072.6" r="11.9"/><circle cx="255.8" cy="1057.0" r="11.9"/><circle cx="250.0" cy="1067.2" r="11.9"/><circle cx="255.6" cy="1072.1" r="11.9"/><circle cx="258.9" cy="1054.3" r="11.9"/><circle cx="249.9" cy="1061.2" r="11.9"/><circle cx="254.9" cy="1057.2" r="11.9"/><circle cx="250.5" cy="1072.4" r="11.9"/><circle cx="249.7" cy="1062.5" r="11.9"/><circle cx="258.6" cy="1065.9" r="11.9"/><circle cx="254.0" cy="1055.7" r="11.9"/><circle cx="259.9" cy="1055.4" r="11.9"/><circle cx="247.4" cy="1072.6" r="11.9"/><circle cx="254.4" cy="1058.0" r="11.9"/><circle cx="247.8" cy="1071.3" r="11.9"/><circle cx="254.4" cy="1063.3" r="11.9"/><circle cx="253.9" cy="1064.8" r="11.9"/><circle cx="256.4" cy="1061.5" r="11.9"/><circle cx="246.2" cy="1072.3" r="11.9"/><circle cx="248.0" cy="1057.3" r="11.9"/><circle cx="253.0" cy="1061.2" r="11.9"/><circle cx="249.8" cy="1069.9" r="11.9"/><circle cx="257.5" cy="1067.1" r="11.9"/><circle cx="252.6" cy="1055.3" r="11.9"/><circle cx="246.8" cy="1059.5" r="11.9"/><circle cx="258.2" cy="1054.6" r="11.9"/><circle cx="254.6" cy="1055.4" r="11.9"/><circle cx="247.3" cy="1065.6" r="11.9"/><circle cx="255.2" cy="1072.2" r="11.9"/><circle cx="252.9" cy="1057.8" r="11.9"/><circle cx="253.0" cy="1071.8" r="11.9"/><circle cx="281.1" cy="1055.9" r="11.9"/><circle cx="272.9" cy="1065.4" r="11.9"/><circle cx="289.8" cy="1065.5" r="11.9"/><circle cx="274.0" cy="1066.2" r="11.9"/><circle cx="277.3" cy="1062.0" r="11.9"/><circle cx="273.2" cy="1065.7" r="11.9"/><circle cx="277.2" cy="1067.8" r="11.9"/><circle cx="279.4" cy="1055.2" r="11.9"/><circle cx="273.2" cy="1050.4" r="11.9"/><circle cx="273.9" cy="1059.6" r="11.9"/><circle cx="271.9" cy="1057.3" r="11.9"/><circle cx="277.5" cy="1058.0" r="11.9"/><circle cx="276.4" cy="1063.5" r="11.9"/><circle cx="272.8" cy="1057.4" r="11.9"/><circle cx="288.0" cy="1063.9" r="11.9"/><circle cx="284.8" cy="1058.2" r="11.9"/><circle cx="269.1" cy="1061.2" r="11.9"/><circle cx="283.3" cy="1054.9" r="11.9"/><circle cx="285.8" cy="1066.9" r="11.9"/><circle cx="276.1" cy="1064.0" r="11.9"/><circle cx="275.9" cy="1053.1" r="11.9"/><circle cx="269.5" cy="1055.9" r="11.9"/><circle cx="288.3" cy="1056.7" r="11.9"/><circle cx="272.4" cy="1058.0" r="11.9"/><circle cx="288.5" cy="1063.8" r="11.9"/><circle cx="291.4" cy="1064.7" r="11.9"/><circle cx="270.9" cy="1064.5" r="11.9"/><circle cx="279.8" cy="1051.1" r="11.9"/><circle cx="289.3" cy="1058.7" r="11.9"/><circle cx="275.8" cy="1062.7" r="11.9"/><circle cx="284.1" cy="1058.1" r="11.9"/><circle cx="279.4" cy="1056.4" r="11.9"/><circle cx="273.0" cy="1066.6" r="11.9"/><circle cx="268.2" cy="1063.7" r="11.9"/><circle cx="284.5" cy="1058.9" r="11.9"/><circle cx="289.6" cy="1054.3" r="11.9"/><circle cx="285.3" cy="1060.3" r="11.9"/><circle cx="279.7" cy="1061.9" r="11.9"/><circle cx="286.5" cy="1060.5" r="11.9"/><circle cx="280.3" cy="1055.0" r="11.9"/></g>
<path class="rb" d="M248.0 1075.0C251.3 1074.8 261.3 1074.3 268.0 1073.9C274.7 1073.6 281.3 1073.3 288.0 1072.9C294.7 1072.4 301.3 1071.9 308.0 1071.2C314.7 1070.5 321.3 1069.4 328.0 1068.7C334.7 1067.9 341.3 1067.1 348.0 1066.5C354.7 1065.8 361.3 1065.3 368.0 1064.8C374.7 1064.2 381.3 1063.7 388.0 1063.1C394.7 1062.5 401.3 1061.9 408.0 1061.4C414.7 1060.9 421.3 1060.5 428.0 1060.2C434.7 1060.0 441.3 1059.9 448.0 1059.8C454.7 1059.6 461.3 1059.5 468.0 1059.4C474.7 1059.2 481.3 1059.0 488.0 1058.9C494.7 1058.9 501.3 1058.9 508.0 1059.1C514.7 1059.3 521.3 1059.8 528.0 1060.2C534.7 1060.5 541.3 1060.9 548.0 1061.2C554.7 1061.6 561.3 1061.8 568.0 1062.3C574.7 1062.8 581.3 1063.3 588.0 1064.0C594.7 1064.7 601.3 1065.7 608.0 1066.6C614.7 1067.5 621.3 1068.3 628.0 1069.2C634.7 1070.0 641.3 1070.6 648.0 1071.7C654.7 1072.9 661.3 1074.6 668.0 1076.1C674.7 1077.6 681.3 1079.2 688.0 1080.7C694.7 1082.2 701.3 1083.6 708.0 1085.3C714.7 1086.9 721.3 1088.5 728.0 1090.4C734.7 1092.3 741.3 1094.3 748.0 1096.4C754.7 1098.5 761.3 1100.6 768.0 1102.8C774.7 1105.0 781.3 1107.5 788.0 1109.8C794.7 1112.1 801.3 1114.5 808.0 1116.8C814.7 1119.1 821.3 1121.4 828.0 1123.8C834.7 1126.2 841.3 1128.6 848.0 1131.2C854.7 1133.8 861.3 1136.6 868.0 1139.2C874.7 1141.8 881.3 1144.5 888.0 1147.0C894.7 1149.5 901.3 1152.1 908.0 1154.5C914.7 1156.9 921.3 1160.1 928.0 1161.3C934.7 1162.6 941.3 1161.9 948.0 1162.0C954.7 1162.1 961.3 1162.2 968.0 1162.0C974.7 1161.8 981.3 1162.0 988.0 1160.9C994.7 1159.7 1001.3 1156.9 1008.0 1155.1C1014.7 1153.4 1021.3 1151.7 1028.0 1150.5C1034.7 1149.3 1041.3 1147.6 1048.0 1148.0C1054.7 1148.5 1061.3 1151.5 1068.0 1153.2C1074.7 1155.0 1081.3 1155.1 1088.0 1158.4C1094.7 1161.7 1101.3 1166.6 1108.0 1173.1C1114.7 1179.6 1121.3 1189.3 1128.0 1197.3C1134.7 1205.4 1141.3 1213.8 1148.0 1221.6C1154.7 1229.4 1161.3 1236.7 1168.0 1244.2C1174.7 1251.8 1181.3 1259.2 1188.0 1266.8C1194.7 1274.2 1201.3 1284.2 1208.0 1289.2C1214.7 1294.3 1221.3 1295.6 1228.0 1297.2C1234.7 1298.9 1241.3 1298.4 1248.0 1299.0C1254.7 1299.6 1261.3 1301.7 1268.0 1300.8C1274.7 1299.9 1281.3 1296.1 1288.0 1293.5C1294.7 1290.9 1301.3 1287.9 1308.0 1285.2C1314.7 1282.4 1321.3 1279.3 1328.0 1276.8C1334.7 1274.4 1341.3 1272.6 1348.0 1270.6C1354.7 1268.6 1361.3 1266.6 1368.0 1264.6C1374.7 1262.6 1381.3 1259.9 1388.0 1258.6C1394.7 1257.3 1401.3 1257.2 1408.0 1256.6C1414.7 1256.0 1421.3 1255.4 1428.0 1255.0C1434.7 1254.5 1441.3 1254.2 1448.0 1254.0C1454.7 1253.8 1461.3 1254.0 1468.0 1254.0C1474.7 1254.0 1481.3 1254.0 1488.0 1254.0C1494.7 1254.0 1501.3 1254.0 1508.0 1253.9C1514.7 1253.9 1521.3 1253.8 1528.0 1253.7C1534.7 1253.7 1541.3 1253.6 1548.0 1253.5C1554.7 1253.5 1561.3 1253.4 1568.0 1253.3C1574.7 1253.3 1581.3 1253.2 1588.0 1253.1C1594.7 1253.0 1601.3 1252.9 1608.0 1252.7C1614.7 1252.5 1621.3 1252.2 1628.0 1252.0C1634.7 1251.7 1641.3 1251.5 1648.0 1251.2C1654.7 1251.0 1661.3 1250.7 1668.0 1250.5C1674.7 1250.2 1681.3 1249.9 1688.0 1249.6C1694.7 1249.3 1701.3 1248.9 1708.0 1248.6C1714.7 1248.3 1721.3 1247.9 1728.0 1247.6C1734.7 1247.3 1741.3 1246.9 1748.0 1246.6C1754.7 1246.2 1761.3 1245.9 1768.0 1245.5C1774.7 1245.1 1781.3 1244.7 1788.0 1244.2C1794.7 1243.8 1801.3 1243.4 1808.0 1243.0C1814.7 1242.6 1821.3 1242.2 1828.0 1241.7C1834.7 1241.2 1841.3 1240.6 1848.0 1240.0C1854.7 1239.4 1861.3 1238.9 1868.0 1238.3C1874.7 1237.8 1881.3 1237.1 1888.0 1236.7C1894.7 1236.2 1901.3 1235.8 1908.0 1235.5C1914.7 1235.2 1921.3 1235.0 1928.0 1234.7C1934.7 1234.5 1941.3 1234.2 1948.0 1233.9C1954.7 1233.7 1961.3 1233.4 1968.0 1233.1C1974.7 1232.9 1981.3 1232.6 1988.0 1232.3C1994.7 1232.0 2001.3 1231.7 2008.0 1231.3C2014.7 1231.0 2021.3 1230.6 2028.0 1230.3C2034.7 1229.9 2041.3 1229.5 2048.0 1229.2C2054.7 1228.8 2061.3 1228.5 2068.0 1228.1C2074.7 1227.7 2081.3 1227.4 2088.0 1227.0C2094.7 1226.6 2101.8 1226.3 2108.0 1225.9C2114.2 1225.6 2122.2 1225.2 2125.0 1225.0L2125.0 1233.0C2122.2 1233.2 2114.2 1233.6 2108.0 1233.9C2101.8 1234.3 2094.7 1234.6 2088.0 1235.0C2081.3 1235.4 2074.7 1235.7 2068.0 1236.1C2061.3 1236.5 2054.7 1236.8 2048.0 1237.2C2041.3 1237.5 2034.7 1237.9 2028.0 1238.3C2021.3 1238.6 2014.7 1239.0 2008.0 1239.3C2001.3 1239.7 1994.7 1240.0 1988.0 1240.3C1981.3 1240.6 1974.7 1240.9 1968.0 1241.1C1961.3 1241.4 1954.7 1241.7 1948.0 1241.9C1941.3 1242.2 1934.7 1242.5 1928.0 1242.7C1921.3 1243.0 1914.7 1243.2 1908.0 1243.5C1901.3 1243.8 1894.7 1244.2 1888.0 1244.7C1881.3 1245.1 1874.7 1245.8 1868.0 1246.3C1861.3 1246.9 1854.7 1247.4 1848.0 1248.0C1841.3 1248.6 1834.7 1249.2 1828.0 1249.7C1821.3 1250.2 1814.7 1250.6 1808.0 1251.0C1801.3 1251.4 1794.7 1251.8 1788.0 1252.2C1781.3 1252.7 1774.7 1253.1 1768.0 1253.5C1761.3 1253.9 1754.7 1254.2 1748.0 1254.6C1741.3 1254.9 1734.7 1255.3 1728.0 1255.6C1721.3 1255.9 1714.7 1256.3 1708.0 1256.6C1701.3 1256.9 1694.7 1257.3 1688.0 1257.6C1681.3 1257.9 1674.7 1258.2 1668.0 1258.5C1661.3 1258.7 1654.7 1259.0 1648.0 1259.2C1641.3 1259.5 1634.7 1259.7 1628.0 1260.0C1621.3 1260.2 1614.7 1260.5 1608.0 1260.7C1601.3 1260.9 1594.7 1261.0 1588.0 1261.1C1581.3 1261.2 1574.7 1261.3 1568.0 1261.3C1561.3 1261.4 1554.7 1261.5 1548.0 1261.5C1541.3 1261.6 1534.7 1261.7 1528.0 1261.7C1521.3 1261.8 1514.7 1261.9 1508.0 1261.9C1501.3 1262.0 1494.7 1262.0 1488.0 1262.0C1481.3 1262.0 1474.7 1262.0 1468.0 1262.0C1461.3 1262.0 1454.7 1261.8 1448.0 1262.0C1441.3 1262.2 1434.7 1262.5 1428.0 1263.0C1421.3 1263.4 1414.7 1264.0 1408.0 1264.6C1401.3 1265.2 1394.7 1265.3 1388.0 1266.6C1381.3 1267.9 1374.7 1270.6 1368.0 1272.6C1361.3 1274.6 1354.7 1276.6 1348.0 1278.6C1341.3 1280.6 1334.7 1282.4 1328.0 1284.8C1321.3 1287.3 1314.7 1290.4 1308.0 1293.2C1301.3 1295.9 1294.7 1298.9 1288.0 1301.5C1281.3 1304.1 1274.7 1307.9 1268.0 1308.8C1261.3 1309.7 1254.7 1307.6 1248.0 1307.0C1241.3 1306.4 1234.7 1306.9 1228.0 1305.2C1221.3 1303.6 1214.7 1302.3 1208.0 1297.2C1201.3 1292.2 1194.7 1282.2 1188.0 1274.8C1181.3 1267.2 1174.7 1259.8 1168.0 1252.2C1161.3 1244.7 1154.7 1237.4 1148.0 1229.6C1141.3 1221.8 1134.7 1213.4 1128.0 1205.3C1121.3 1197.3 1114.7 1187.6 1108.0 1181.1C1101.3 1174.6 1094.7 1169.7 1088.0 1166.4C1081.3 1163.1 1074.7 1163.0 1068.0 1161.2C1061.3 1159.5 1054.7 1156.5 1048.0 1156.0C1041.3 1155.6 1034.7 1157.3 1028.0 1158.5C1021.3 1159.7 1014.7 1161.4 1008.0 1163.1C1001.3 1164.9 994.7 1167.7 988.0 1168.9C981.3 1170.0 974.7 1169.8 968.0 1170.0C961.3 1170.2 954.7 1170.1 948.0 1170.0C941.3 1169.9 934.7 1170.6 928.0 1169.3C921.3 1168.1 914.7 1164.9 908.0 1162.5C901.3 1160.1 894.7 1157.5 888.0 1155.0C881.3 1152.5 874.7 1149.8 868.0 1147.2C861.3 1144.6 854.7 1141.8 848.0 1139.2C841.3 1136.6 834.7 1134.2 828.0 1131.8C821.3 1129.4 814.7 1127.1 808.0 1124.8C801.3 1122.5 794.7 1120.1 788.0 1117.8C781.3 1115.5 774.7 1113.0 768.0 1110.8C761.3 1108.6 754.7 1106.5 748.0 1104.4C741.3 1102.3 734.7 1100.3 728.0 1098.4C721.3 1096.5 714.7 1094.9 708.0 1093.3C701.3 1091.6 694.7 1090.2 688.0 1088.7C681.3 1087.2 674.7 1085.6 668.0 1084.1C661.3 1082.6 654.7 1080.9 648.0 1079.7C641.3 1078.6 634.7 1078.0 628.0 1077.2C621.3 1076.3 614.7 1075.5 608.0 1074.6C601.3 1073.7 594.7 1072.8 588.0 1072.1C581.3 1071.4 574.7 1070.9 568.0 1070.5C561.3 1070.1 554.7 1069.9 548.0 1069.6C541.3 1069.3 534.7 1069.0 528.0 1068.6C521.3 1068.3 514.7 1067.9 508.0 1067.7C501.3 1067.5 494.7 1067.6 488.0 1067.7C481.3 1067.8 474.7 1068.1 468.0 1068.2C461.3 1068.4 454.7 1068.6 448.0 1068.8C441.3 1069.0 434.7 1069.1 428.0 1069.4C421.3 1069.7 414.7 1070.2 408.0 1070.7C401.3 1071.2 394.7 1071.9 388.0 1072.5C381.3 1073.1 374.7 1073.7 368.0 1074.3C361.3 1074.9 354.7 1075.4 348.0 1076.1C341.3 1076.8 334.7 1077.6 328.0 1078.5C321.3 1079.3 314.7 1080.1 308.0 1081.1C301.3 1082.2 294.7 1083.4 288.0 1084.7C281.3 1086.0 274.7 1087.5 268.0 1088.9C261.3 1090.2 251.3 1092.3 248.0 1093.0Z"/>
<path class="rl" d="M248.0 1084.0C263.3 1082.0 311.3 1075.2 340.0 1072.0C368.7 1068.8 393.3 1066.5 420.0 1065.0C446.7 1063.5 473.3 1062.7 500.0 1063.0C526.7 1063.3 555.0 1064.8 580.0 1067.0C605.0 1069.2 626.7 1071.8 650.0 1076.0C673.3 1080.2 701.7 1087.3 720.0 1092.0C738.3 1096.7 746.7 1099.7 760.0 1104.0C773.3 1108.3 786.7 1113.3 800.0 1118.0C813.3 1122.7 826.7 1127.0 840.0 1132.0C853.3 1137.0 868.0 1143.3 880.0 1148.0C892.0 1152.7 903.7 1157.0 912.0 1160.0C920.3 1163.0 918.0 1165.0 930.0 1166.0C942.0 1167.0 970.3 1167.3 984.0 1166.0C997.7 1164.7 1002.0 1160.5 1012.0 1158.0C1022.0 1155.5 1038.7 1152.2 1044.0 1151.0L1044.0 1151.0C1053.0 1153.3 1089.0 1162.7 1098.0 1165.0L1098.0 1165.0C1106.7 1175.5 1130.7 1205.5 1150.0 1228.0C1169.3 1250.5 1203.3 1288.0 1214.0 1300.0L1214.0 1300.0C1223.3 1300.8 1260.7 1304.2 1270.0 1305.0L1270.0 1305.0C1280.0 1300.8 1310.0 1287.2 1330.0 1280.0C1350.0 1272.8 1371.7 1265.7 1390.0 1262.0C1408.3 1258.3 1421.7 1258.7 1440.0 1258.0C1458.3 1257.3 1473.3 1258.2 1500.0 1258.0C1526.7 1257.8 1570.0 1257.7 1600.0 1257.0C1630.0 1256.3 1653.3 1255.2 1680.0 1254.0C1706.7 1252.8 1736.0 1251.3 1760.0 1250.0C1784.0 1248.7 1801.3 1247.7 1824.0 1246.0C1846.7 1244.3 1867.3 1241.7 1896.0 1240.0C1924.7 1238.3 1957.8 1237.8 1996.0 1236.0C2034.2 1234.2 2103.5 1230.2 2125.0 1229.0"/>
</g>
</g>
<path class="ax" d="M158.2 0V653.2M156.5 651.5H2120"/>
<path class="ax" d="M158.2 702V1354.7M156.5 1353H2120"/>
<path class="ax" style="stroke-width:3" d="M147.7 30.6H158.2M147.7 148.8H158.2M147.7 267.0H158.2M147.7 385.2H158.2M147.7 503.4H158.2M147.7 621.6H158.2M247.0 651.5v9.8M756.3 651.5v9.8M1265.6 651.5v9.8M1774.9 651.5v9.8M147.7 731.0H158.2M147.7 849.4H158.2M147.7 967.8H158.2M147.7 1086.2H158.2M147.7 1204.6H158.2M147.7 1323.0H158.2M247.0 1353v9.8M348.9 1353v9.8M450.7 1353v9.8M552.6 1353v9.8M654.4 1353v9.8M756.3 1353v9.8M858.2 1353v9.8M960.0 1353v9.8M1061.9 1353v9.8M1163.7 1353v9.8M1265.6 1353v9.8M1367.5 1353v9.8M1469.3 1353v9.8M1571.2 1353v9.8M1673.0 1353v9.8M1774.9 1353v9.8M1876.8 1353v9.8M1978.6 1353v9.8"/>
<text transform="translate(138.5 46.6) scale(1 1.06)" text-anchor="end" font-size="43" fill="#4d4d4d">-6</text>
<text transform="translate(138.5 164.8) scale(1 1.06)" text-anchor="end" font-size="43" fill="#4d4d4d">-8</text>
<text transform="translate(138.5 283.0) scale(1 1.06)" text-anchor="end" font-size="43" fill="#4d4d4d">-10</text>
<text transform="translate(138.5 401.2) scale(1 1.06)" text-anchor="end" font-size="43" fill="#4d4d4d">-12</text>
<text transform="translate(138.5 519.4) scale(1 1.06)" text-anchor="end" font-size="43" fill="#4d4d4d">-14</text>
<text transform="translate(138.5 637.6) scale(1 1.06)" text-anchor="end" font-size="43" fill="#4d4d4d">-16</text>
<text transform="translate(138.5 747.0) scale(1 1.06)" text-anchor="end" font-size="43" fill="#4d4d4d">0</text>
<text transform="translate(138.5 865.4) scale(1 1.06)" text-anchor="end" font-size="43" fill="#4d4d4d">1</text>
<text transform="translate(138.5 983.8) scale(1 1.06)" text-anchor="end" font-size="43" fill="#4d4d4d">2</text>
<text transform="translate(138.5 1102.2) scale(1 1.06)" text-anchor="end" font-size="43" fill="#4d4d4d">3</text>
<text transform="translate(138.5 1220.6) scale(1 1.06)" text-anchor="end" font-size="43" fill="#4d4d4d">4</text>
<text transform="translate(138.5 1339.0) scale(1 1.06)" text-anchor="end" font-size="43" fill="#4d4d4d">5</text>
<text transform="translate(247.0 1404.3) scale(1 1.06)" text-anchor="middle" font-size="43" fill="#4d4d4d">0</text>
<text transform="translate(348.9 1404.3) scale(1 1.06)" text-anchor="middle" font-size="43" fill="#4d4d4d">2</text>
<text transform="translate(450.7 1404.3) scale(1 1.06)" text-anchor="middle" font-size="43" fill="#4d4d4d">4</text>
<text transform="translate(552.6 1404.3) scale(1 1.06)" text-anchor="middle" font-size="43" fill="#4d4d4d">6</text>
<text transform="translate(654.4 1404.3) scale(1 1.06)" text-anchor="middle" font-size="43" fill="#4d4d4d">8</text>
<text transform="translate(756.3 1404.3) scale(1 1.06)" text-anchor="middle" font-size="43" fill="#4d4d4d">10</text>
<text transform="translate(858.2 1404.3) scale(1 1.06)" text-anchor="middle" font-size="43" fill="#4d4d4d">12</text>
<text transform="translate(960.0 1404.3) scale(1 1.06)" text-anchor="middle" font-size="43" fill="#4d4d4d">14</text>
<text transform="translate(1061.9 1404.3) scale(1 1.06)" text-anchor="middle" font-size="43" fill="#4d4d4d">16</text>
<text transform="translate(1163.7 1404.3) scale(1 1.06)" text-anchor="middle" font-size="43" fill="#4d4d4d">18</text>
<text transform="translate(1265.6 1404.3) scale(1 1.06)" text-anchor="middle" font-size="43" fill="#4d4d4d">20</text>
<text transform="translate(1367.5 1404.3) scale(1 1.06)" text-anchor="middle" font-size="43" fill="#4d4d4d">22</text>
<text transform="translate(1469.3 1404.3) scale(1 1.06)" text-anchor="middle" font-size="43" fill="#4d4d4d">24</text>
<text transform="translate(1571.2 1404.3) scale(1 1.06)" text-anchor="middle" font-size="43" fill="#4d4d4d">26</text>
<text transform="translate(1673.0 1404.3) scale(1 1.06)" text-anchor="middle" font-size="43" fill="#4d4d4d">28</text>
<text transform="translate(1774.9 1404.3) scale(1 1.06)" text-anchor="middle" font-size="43" fill="#4d4d4d">30</text>
<text transform="translate(1876.8 1404.3) scale(1 1.06)" text-anchor="middle" font-size="43" fill="#4d4d4d">32</text>
<text transform="translate(1978.6 1404.3) scale(1 1.06)" text-anchor="middle" font-size="43" fill="#4d4d4d">34</text>
<text transform="translate(1137.5 1461) scale(1 1)" text-anchor="middle" font-size="54.4" fill="#000">Age (kyr BP)</text>
<text transform="translate(48 327) rotate(-90) scale(1 1.035)" text-anchor="middle" font-size="55.4" fill="#000">εNd</text>
<text transform="translate(55 1081.3) rotate(-90) scale(1 1.035)" text-anchor="start" font-size="52" fill="#000" style="font-family:'Liberation Serif',serif">δ</text>
<text transform="translate(28.5 1059.5) rotate(-90) scale(1 1.035)" text-anchor="start" font-size="39" fill="#000">18</text>
<text transform="translate(55 1014.6) rotate(-90) scale(1 1.035)" text-anchor="start" font-size="55.4" fill="#000">O</text>
<text transform="translate(180 54.5) scale(1 1.035)" text-anchor="start" font-size="62" fill="#000">A</text>
<text transform="translate(180 757) scale(1 1.035)" text-anchor="start" font-size="62" fill="#000">B</text>
<text transform="translate(373.5 46) scale(1 1.035)" text-anchor="middle" font-size="39.8" fill="#8b1a1a">Holocene</text>
<text transform="translate(1036 46) scale(1 1.035)" text-anchor="middle" font-size="39.8" fill="#f8962e">Deglacial</text>
<text transform="translate(1290 46) scale(1 1.035)" text-anchor="middle" font-size="39.8" fill="#10109a">LGM</text>
<rect x="1780" y="82" width="62" height="125" fill="#f2f2f2"/>
<circle class="c" cx="1810.3" cy="113" r="16.7"/>
<path class="d" d="M1810 154.7l20.6 20.6l-20.6 20.6l-20.6 -20.6z"/>
<text transform="translate(1869 129.2) scale(1 1.035)" text-anchor="start" font-size="43.2" fill="#000">Literature</text>
<text transform="translate(1869 191.6) scale(1 1.035)" text-anchor="start" font-size="43.2" fill="#000">This study</text>
<rect x="692.5" y="0" width="3" height="2" fill="#222"/>
</svg></body></html>
